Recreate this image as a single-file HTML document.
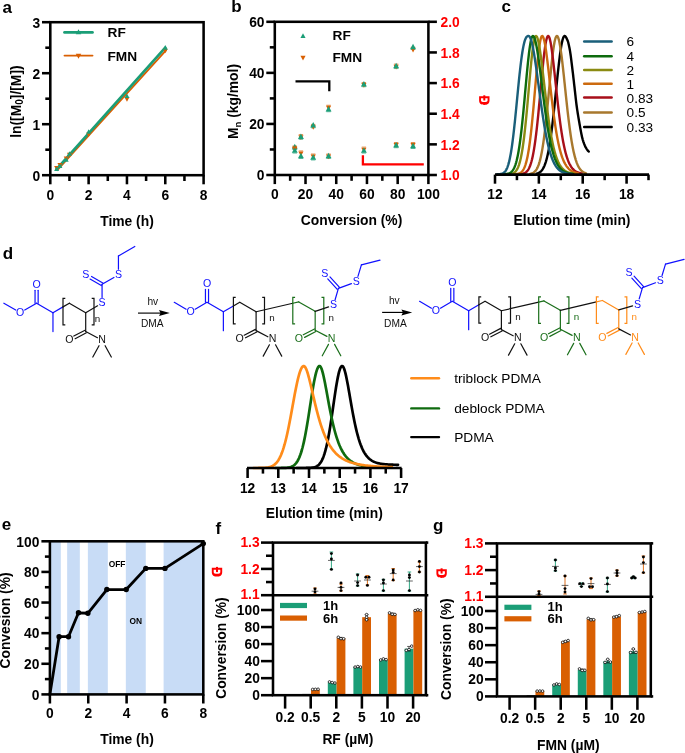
<!DOCTYPE html>
<html><head><meta charset="utf-8"><title>Figure</title>
<style>html,body{margin:0;padding:0;background:#fff;}body{width:685px;height:753px;overflow:hidden;font-family:"Liberation Sans",sans-serif;}</style>
</head><body>
<svg width="685" height="753" viewBox="0 0 685 753" style="display:block;will-change:transform;transform:translateZ(0)">
<rect width="685" height="753" fill="#fff"/>
<text x="2.50" y="12.60" font-family="Liberation Sans, sans-serif" font-weight="bold" font-size="17" text-anchor="start" fill="#000">a</text>
<line x1="57.32" y1="170.19" x2="165.97" y2="50.34" stroke="#D95F02" stroke-width="1.8" stroke-linecap="round"/>
<line x1="56.62" y1="169.08" x2="165.28" y2="47.70" stroke="#1B9E77" stroke-width="2.7" stroke-linecap="round"/>
<polygon points="56.62,170.66 54.15,166.11 59.09,166.11" fill="#D95F02"/>
<polygon points="59.88,167.60 57.41,163.05 62.35,163.05" fill="#D95F02"/>
<polygon points="66.20,160.97 63.73,156.42 68.67,156.42" fill="#D95F02"/>
<polygon points="69.46,157.40 66.99,152.85 71.93,152.85" fill="#D95F02"/>
<polygon points="88.62,137.00 86.16,132.45 91.09,132.45" fill="#D95F02"/>
<polygon points="126.95,101.81 124.48,97.26 129.42,97.26" fill="#D95F02"/>
<polygon points="165.28,53.36 162.81,48.81 167.75,48.81" fill="#D95F02"/>
<polygon points="56.62,166.48 54.15,171.03 59.09,171.03" fill="#1B9E77"/>
<polygon points="59.88,163.42 57.41,167.97 62.35,167.97" fill="#1B9E77"/>
<polygon points="66.20,157.30 63.73,161.85 68.67,161.85" fill="#1B9E77"/>
<polygon points="69.46,151.18 66.99,155.73 71.93,155.73" fill="#1B9E77"/>
<polygon points="88.62,129.25 86.16,133.80 91.09,133.80" fill="#1B9E77"/>
<polygon points="126.95,93.55 124.48,98.10 129.42,98.10" fill="#1B9E77"/>
<polygon points="165.28,45.10 162.81,49.65 167.75,49.65" fill="#1B9E77"/>
<rect x="50.30" y="22.20" width="153.30" height="153.00" fill="none" stroke="#000" stroke-width="2.55"/>
<line x1="42.00" y1="175.20" x2="50.30" y2="175.20" stroke="#000" stroke-width="2.55" stroke-linecap="butt"/>
<text x="40.30" y="180.50" font-family="Liberation Sans, sans-serif" font-weight="bold" font-size="13.8" text-anchor="end" fill="#000">0</text>
<line x1="42.00" y1="124.20" x2="50.30" y2="124.20" stroke="#000" stroke-width="2.55" stroke-linecap="butt"/>
<text x="40.30" y="129.50" font-family="Liberation Sans, sans-serif" font-weight="bold" font-size="13.8" text-anchor="end" fill="#000">1</text>
<line x1="42.00" y1="73.20" x2="50.30" y2="73.20" stroke="#000" stroke-width="2.55" stroke-linecap="butt"/>
<text x="40.30" y="78.50" font-family="Liberation Sans, sans-serif" font-weight="bold" font-size="13.8" text-anchor="end" fill="#000">2</text>
<line x1="42.00" y1="22.20" x2="50.30" y2="22.20" stroke="#000" stroke-width="2.55" stroke-linecap="butt"/>
<text x="40.30" y="27.50" font-family="Liberation Sans, sans-serif" font-weight="bold" font-size="13.8" text-anchor="end" fill="#000">3</text>
<line x1="45.30" y1="149.70" x2="50.30" y2="149.70" stroke="#000" stroke-width="2.55" stroke-linecap="butt"/>
<line x1="45.30" y1="98.70" x2="50.30" y2="98.70" stroke="#000" stroke-width="2.55" stroke-linecap="butt"/>
<line x1="45.30" y1="47.70" x2="50.30" y2="47.70" stroke="#000" stroke-width="2.55" stroke-linecap="butt"/>
<line x1="50.30" y1="175.20" x2="50.30" y2="184.30" stroke="#000" stroke-width="2.55" stroke-linecap="butt"/>
<text x="50.30" y="199.50" font-family="Liberation Sans, sans-serif" font-weight="bold" font-size="13.8" text-anchor="middle" fill="#000">0</text>
<line x1="88.62" y1="175.20" x2="88.62" y2="184.30" stroke="#000" stroke-width="2.55" stroke-linecap="butt"/>
<text x="88.62" y="199.50" font-family="Liberation Sans, sans-serif" font-weight="bold" font-size="13.8" text-anchor="middle" fill="#000">2</text>
<line x1="126.95" y1="175.20" x2="126.95" y2="184.30" stroke="#000" stroke-width="2.55" stroke-linecap="butt"/>
<text x="126.95" y="199.50" font-family="Liberation Sans, sans-serif" font-weight="bold" font-size="13.8" text-anchor="middle" fill="#000">4</text>
<line x1="165.28" y1="175.20" x2="165.28" y2="184.30" stroke="#000" stroke-width="2.55" stroke-linecap="butt"/>
<text x="165.28" y="199.50" font-family="Liberation Sans, sans-serif" font-weight="bold" font-size="13.8" text-anchor="middle" fill="#000">6</text>
<line x1="203.60" y1="175.20" x2="203.60" y2="184.30" stroke="#000" stroke-width="2.55" stroke-linecap="butt"/>
<text x="203.60" y="199.50" font-family="Liberation Sans, sans-serif" font-weight="bold" font-size="13.8" text-anchor="middle" fill="#000">8</text>
<line x1="69.46" y1="175.20" x2="69.46" y2="181.00" stroke="#000" stroke-width="2.55" stroke-linecap="butt"/>
<line x1="107.79" y1="175.20" x2="107.79" y2="181.00" stroke="#000" stroke-width="2.55" stroke-linecap="butt"/>
<line x1="146.11" y1="175.20" x2="146.11" y2="181.00" stroke="#000" stroke-width="2.55" stroke-linecap="butt"/>
<line x1="184.44" y1="175.20" x2="184.44" y2="181.00" stroke="#000" stroke-width="2.55" stroke-linecap="butt"/>
<text x="127.00" y="226.30" font-family="Liberation Sans, sans-serif" font-weight="bold" font-size="13.85" text-anchor="middle" fill="#000">Time (h)</text>
<text x="20.60" y="101.60" font-family="Liberation Sans, sans-serif" font-weight="bold" font-size="13.85" text-anchor="middle" fill="#000" transform="rotate(-90 20.60 101.60)">ln([M<tspan font-size="10" dy="2.8">0</tspan><tspan dy="-2.8">]/[M])</tspan></text>
<line x1="64.50" y1="32.40" x2="92.50" y2="32.40" stroke="#1B9E77" stroke-width="2.7" stroke-linecap="round"/>
<polygon points="78.50,29.20 75.75,34.27 81.25,34.27" fill="#1B9E77"/>
<line x1="64.50" y1="55.60" x2="92.50" y2="55.60" stroke="#D95F02" stroke-width="1.9" stroke-linecap="round"/>
<polygon points="78.50,58.80 75.75,53.73 81.25,53.73" fill="#D95F02"/>
<text x="107.50" y="36.90" font-family="Liberation Sans, sans-serif" font-weight="bold" font-size="13.7" text-anchor="start" fill="#000">RF</text>
<text x="107.50" y="60.80" font-family="Liberation Sans, sans-serif" font-weight="bold" font-size="13.7" text-anchor="start" fill="#000">FMN</text>
<text x="231.30" y="12.40" font-family="Liberation Sans, sans-serif" font-weight="bold" font-size="17" text-anchor="start" fill="#000">b</text>
<line x1="292.57" y1="146.10" x2="296.97" y2="146.10" stroke="#D95F02" stroke-width="0.7" stroke-linecap="butt"/>
<line x1="292.57" y1="149.51" x2="296.97" y2="149.51" stroke="#1B9E77" stroke-width="0.7" stroke-linecap="butt"/>
<polygon points="294.77,151.40 292.20,146.68 297.33,146.68" fill="#D95F02"/>
<polygon points="294.77,143.81 291.82,149.24 297.71,149.24" fill="#1B9E77"/>
<line x1="292.57" y1="146.36" x2="296.97" y2="146.36" stroke="#D95F02" stroke-width="0.7" stroke-linecap="butt"/>
<line x1="292.57" y1="153.09" x2="296.97" y2="153.09" stroke="#1B9E77" stroke-width="0.7" stroke-linecap="butt"/>
<polygon points="294.77,151.66 292.20,146.93 297.33,146.93" fill="#D95F02"/>
<polygon points="294.77,147.39 291.82,152.81 297.71,152.81" fill="#1B9E77"/>
<line x1="298.71" y1="134.61" x2="303.11" y2="134.61" stroke="#D95F02" stroke-width="0.7" stroke-linecap="butt"/>
<line x1="298.71" y1="139.30" x2="303.11" y2="139.30" stroke="#1B9E77" stroke-width="0.7" stroke-linecap="butt"/>
<polygon points="300.91,139.91 298.35,135.19 303.48,135.19" fill="#D95F02"/>
<polygon points="300.91,133.60 297.97,139.02 303.86,139.02" fill="#1B9E77"/>
<line x1="298.71" y1="150.95" x2="303.11" y2="150.95" stroke="#D95F02" stroke-width="0.7" stroke-linecap="butt"/>
<line x1="298.71" y1="158.45" x2="303.11" y2="158.45" stroke="#1B9E77" stroke-width="0.7" stroke-linecap="butt"/>
<polygon points="300.91,156.25 298.35,151.53 303.48,151.53" fill="#D95F02"/>
<polygon points="300.91,152.75 297.97,158.17 303.86,158.17" fill="#1B9E77"/>
<line x1="311.00" y1="124.40" x2="315.40" y2="124.40" stroke="#D95F02" stroke-width="0.7" stroke-linecap="butt"/>
<line x1="311.00" y1="127.81" x2="315.40" y2="127.81" stroke="#1B9E77" stroke-width="0.7" stroke-linecap="butt"/>
<polygon points="313.20,129.70 310.63,124.97 315.76,124.97" fill="#D95F02"/>
<polygon points="313.20,122.11 310.25,127.54 316.14,127.54" fill="#1B9E77"/>
<line x1="311.00" y1="154.02" x2="315.40" y2="154.02" stroke="#D95F02" stroke-width="0.7" stroke-linecap="butt"/>
<line x1="311.00" y1="159.98" x2="315.40" y2="159.98" stroke="#1B9E77" stroke-width="0.7" stroke-linecap="butt"/>
<polygon points="313.20,159.32 310.63,154.59 315.76,154.59" fill="#D95F02"/>
<polygon points="313.20,154.28 310.25,159.71 316.14,159.71" fill="#1B9E77"/>
<line x1="326.36" y1="105.25" x2="330.76" y2="105.25" stroke="#D95F02" stroke-width="0.7" stroke-linecap="butt"/>
<line x1="326.36" y1="111.72" x2="330.76" y2="111.72" stroke="#1B9E77" stroke-width="0.7" stroke-linecap="butt"/>
<polygon points="328.56,110.55 326.00,105.82 331.12,105.82" fill="#D95F02"/>
<polygon points="328.56,106.02 325.62,111.45 331.50,111.45" fill="#1B9E77"/>
<line x1="326.36" y1="154.02" x2="330.76" y2="154.02" stroke="#D95F02" stroke-width="0.7" stroke-linecap="butt"/>
<line x1="326.36" y1="158.45" x2="330.76" y2="158.45" stroke="#1B9E77" stroke-width="0.7" stroke-linecap="butt"/>
<polygon points="328.56,159.32 326.00,154.59 331.12,154.59" fill="#D95F02"/>
<polygon points="328.56,152.75 325.62,158.17 331.50,158.17" fill="#1B9E77"/>
<line x1="361.69" y1="82.52" x2="366.09" y2="82.52" stroke="#D95F02" stroke-width="0.7" stroke-linecap="butt"/>
<line x1="361.69" y1="86.70" x2="366.09" y2="86.70" stroke="#1B9E77" stroke-width="0.7" stroke-linecap="butt"/>
<polygon points="363.89,87.82 361.32,83.10 366.45,83.10" fill="#D95F02"/>
<polygon points="363.89,81.00 360.94,86.43 366.83,86.43" fill="#1B9E77"/>
<line x1="361.69" y1="147.12" x2="366.09" y2="147.12" stroke="#D95F02" stroke-width="0.7" stroke-linecap="butt"/>
<line x1="361.69" y1="153.09" x2="366.09" y2="153.09" stroke="#1B9E77" stroke-width="0.7" stroke-linecap="butt"/>
<polygon points="363.89,152.42 361.32,147.70 366.45,147.70" fill="#D95F02"/>
<polygon points="363.89,147.39 360.94,152.81 366.83,152.81" fill="#1B9E77"/>
<line x1="393.94" y1="64.14" x2="398.34" y2="64.14" stroke="#D95F02" stroke-width="0.7" stroke-linecap="butt"/>
<line x1="393.94" y1="68.57" x2="398.34" y2="68.57" stroke="#1B9E77" stroke-width="0.7" stroke-linecap="butt"/>
<polygon points="396.14,69.44 393.58,64.71 398.71,64.71" fill="#D95F02"/>
<polygon points="396.14,62.87 393.20,68.30 399.09,68.30" fill="#1B9E77"/>
<line x1="393.94" y1="142.53" x2="398.34" y2="142.53" stroke="#D95F02" stroke-width="0.7" stroke-linecap="butt"/>
<line x1="393.94" y1="147.73" x2="398.34" y2="147.73" stroke="#1B9E77" stroke-width="0.7" stroke-linecap="butt"/>
<polygon points="396.14,147.83 393.58,143.10 398.71,143.10" fill="#D95F02"/>
<polygon points="396.14,142.03 393.20,147.45 399.09,147.45" fill="#1B9E77"/>
<line x1="410.84" y1="47.29" x2="415.24" y2="47.29" stroke="#D95F02" stroke-width="0.7" stroke-linecap="butt"/>
<line x1="410.84" y1="49.42" x2="415.24" y2="49.42" stroke="#1B9E77" stroke-width="0.7" stroke-linecap="butt"/>
<polygon points="413.04,52.59 410.47,47.86 415.60,47.86" fill="#D95F02"/>
<polygon points="413.04,43.72 410.09,49.15 415.98,49.15" fill="#1B9E77"/>
<line x1="410.84" y1="142.53" x2="415.24" y2="142.53" stroke="#D95F02" stroke-width="0.7" stroke-linecap="butt"/>
<line x1="410.84" y1="148.49" x2="415.24" y2="148.49" stroke="#1B9E77" stroke-width="0.7" stroke-linecap="butt"/>
<polygon points="413.04,147.83 410.47,143.10 415.60,143.10" fill="#D95F02"/>
<polygon points="413.04,142.79 410.09,148.22 415.98,148.22" fill="#1B9E77"/>
<rect x="274.80" y="21.80" width="153.60" height="153.20" fill="none" stroke="#000" stroke-width="2.55"/>
<line x1="266.30" y1="175.00" x2="274.80" y2="175.00" stroke="#000" stroke-width="2.55" stroke-linecap="butt"/>
<text x="264.50" y="180.40" font-family="Liberation Sans, sans-serif" font-weight="bold" font-size="13.8" text-anchor="end" fill="#000">0</text>
<line x1="266.30" y1="123.93" x2="274.80" y2="123.93" stroke="#000" stroke-width="2.55" stroke-linecap="butt"/>
<text x="264.50" y="129.33" font-family="Liberation Sans, sans-serif" font-weight="bold" font-size="13.8" text-anchor="end" fill="#000">20</text>
<line x1="266.30" y1="72.87" x2="274.80" y2="72.87" stroke="#000" stroke-width="2.55" stroke-linecap="butt"/>
<text x="264.50" y="78.27" font-family="Liberation Sans, sans-serif" font-weight="bold" font-size="13.8" text-anchor="end" fill="#000">40</text>
<line x1="266.30" y1="21.80" x2="274.80" y2="21.80" stroke="#000" stroke-width="2.55" stroke-linecap="butt"/>
<text x="264.50" y="27.20" font-family="Liberation Sans, sans-serif" font-weight="bold" font-size="13.8" text-anchor="end" fill="#000">60</text>
<line x1="269.80" y1="149.47" x2="274.80" y2="149.47" stroke="#000" stroke-width="2.55" stroke-linecap="butt"/>
<line x1="269.80" y1="98.40" x2="274.80" y2="98.40" stroke="#000" stroke-width="2.55" stroke-linecap="butt"/>
<line x1="269.80" y1="47.33" x2="274.80" y2="47.33" stroke="#000" stroke-width="2.55" stroke-linecap="butt"/>
<line x1="274.80" y1="175.00" x2="274.80" y2="184.10" stroke="#000" stroke-width="2.55" stroke-linecap="butt"/>
<text x="274.80" y="199.30" font-family="Liberation Sans, sans-serif" font-weight="bold" font-size="13.8" text-anchor="middle" fill="#000">0</text>
<line x1="305.52" y1="175.00" x2="305.52" y2="184.10" stroke="#000" stroke-width="2.55" stroke-linecap="butt"/>
<text x="305.52" y="199.30" font-family="Liberation Sans, sans-serif" font-weight="bold" font-size="13.8" text-anchor="middle" fill="#000">20</text>
<line x1="336.24" y1="175.00" x2="336.24" y2="184.10" stroke="#000" stroke-width="2.55" stroke-linecap="butt"/>
<text x="336.24" y="199.30" font-family="Liberation Sans, sans-serif" font-weight="bold" font-size="13.8" text-anchor="middle" fill="#000">40</text>
<line x1="366.96" y1="175.00" x2="366.96" y2="184.10" stroke="#000" stroke-width="2.55" stroke-linecap="butt"/>
<text x="366.96" y="199.30" font-family="Liberation Sans, sans-serif" font-weight="bold" font-size="13.8" text-anchor="middle" fill="#000">60</text>
<line x1="397.68" y1="175.00" x2="397.68" y2="184.10" stroke="#000" stroke-width="2.55" stroke-linecap="butt"/>
<text x="397.68" y="199.30" font-family="Liberation Sans, sans-serif" font-weight="bold" font-size="13.8" text-anchor="middle" fill="#000">80</text>
<line x1="428.40" y1="175.00" x2="428.40" y2="184.10" stroke="#000" stroke-width="2.55" stroke-linecap="butt"/>
<text x="428.40" y="199.30" font-family="Liberation Sans, sans-serif" font-weight="bold" font-size="13.8" text-anchor="middle" fill="#000">100</text>
<line x1="290.16" y1="175.00" x2="290.16" y2="180.80" stroke="#000" stroke-width="2.55" stroke-linecap="butt"/>
<line x1="320.88" y1="175.00" x2="320.88" y2="180.80" stroke="#000" stroke-width="2.55" stroke-linecap="butt"/>
<line x1="351.60" y1="175.00" x2="351.60" y2="180.80" stroke="#000" stroke-width="2.55" stroke-linecap="butt"/>
<line x1="382.32" y1="175.00" x2="382.32" y2="180.80" stroke="#000" stroke-width="2.55" stroke-linecap="butt"/>
<line x1="413.04" y1="175.00" x2="413.04" y2="180.80" stroke="#000" stroke-width="2.55" stroke-linecap="butt"/>
<line x1="428.40" y1="175.00" x2="436.90" y2="175.00" stroke="#000" stroke-width="2.55" stroke-linecap="butt"/>
<text x="440.60" y="180.20" font-family="Liberation Sans, sans-serif" font-weight="bold" font-size="13.8" text-anchor="start" fill="#FF0000">1.0</text>
<line x1="428.40" y1="144.36" x2="436.90" y2="144.36" stroke="#000" stroke-width="2.55" stroke-linecap="butt"/>
<text x="440.60" y="149.56" font-family="Liberation Sans, sans-serif" font-weight="bold" font-size="13.8" text-anchor="start" fill="#FF0000">1.2</text>
<line x1="428.40" y1="113.72" x2="436.90" y2="113.72" stroke="#000" stroke-width="2.55" stroke-linecap="butt"/>
<text x="440.60" y="118.92" font-family="Liberation Sans, sans-serif" font-weight="bold" font-size="13.8" text-anchor="start" fill="#FF0000">1.4</text>
<line x1="428.40" y1="83.08" x2="436.90" y2="83.08" stroke="#000" stroke-width="2.55" stroke-linecap="butt"/>
<text x="440.60" y="88.28" font-family="Liberation Sans, sans-serif" font-weight="bold" font-size="13.8" text-anchor="start" fill="#FF0000">1.6</text>
<line x1="428.40" y1="52.44" x2="436.90" y2="52.44" stroke="#000" stroke-width="2.55" stroke-linecap="butt"/>
<text x="440.60" y="57.64" font-family="Liberation Sans, sans-serif" font-weight="bold" font-size="13.8" text-anchor="start" fill="#FF0000">1.8</text>
<line x1="428.40" y1="21.80" x2="436.90" y2="21.80" stroke="#000" stroke-width="2.55" stroke-linecap="butt"/>
<text x="440.60" y="27.00" font-family="Liberation Sans, sans-serif" font-weight="bold" font-size="13.8" text-anchor="start" fill="#FF0000">2.0</text>
<text x="351.50" y="225.40" font-family="Liberation Sans, sans-serif" font-weight="bold" font-size="13.85" text-anchor="middle" fill="#000">Conversion (%)</text>
<text x="238.30" y="101.50" font-family="Liberation Sans, sans-serif" font-weight="bold" font-size="13.85" text-anchor="middle" fill="#000" transform="rotate(-90 238.30 101.50)">M<tspan font-size="9.5" dy="2.5">n</tspan><tspan dy="-2.5"> (kg/mol)</tspan></text>
<polygon points="303.00,33.30 300.44,38.02 305.56,38.02" fill="#1B9E77"/>
<polygon points="303.00,60.50 300.44,55.77 305.56,55.77" fill="#D95F02"/>
<text x="332.50" y="40.40" font-family="Liberation Sans, sans-serif" font-weight="bold" font-size="13.7" text-anchor="start" fill="#000">RF</text>
<text x="332.50" y="62.30" font-family="Liberation Sans, sans-serif" font-weight="bold" font-size="13.7" text-anchor="start" fill="#000">FMN</text>
<path d="M295.5,81.3 H329.3 V91.2" fill="none" stroke="#000" stroke-width="2.3" stroke-linecap="butt" stroke-linejoin="miter"/>
<path d="M362.9,155.2 V164.3 H423.8" fill="none" stroke="#FF0000" stroke-width="2.3" stroke-linecap="butt" stroke-linejoin="miter"/>
<g transform="translate(484.30 100.60)" fill="#FF0000"><path fill-rule="evenodd" d="M-5.2,-4.4 H5.2 V0 C5.2,3.2 3,4.4 0,4.4 C-3,4.4 -5.2,3.2 -5.2,0 Z M-3.3,-2.4 H3.3 V-0.3 C3.3,1.2 1.8,1.5 0,1.5 C-1.8,1.5 -3.3,1.2 -3.3,-0.3 Z"/><rect x="-1" y="-5.3" width="2" height="5.2"/></g>
<text x="501.60" y="11.70" font-family="Liberation Sans, sans-serif" font-weight="bold" font-size="17" text-anchor="start" fill="#000">c</text>
<path d="M536.67,173.63 L536.90,173.57 L537.14,173.50 L537.38,173.43 L537.61,173.35 L537.85,173.26 L538.09,173.17 L538.33,173.07 L538.56,172.96 L538.80,172.84 L539.04,172.72 L539.27,172.58 L539.51,172.43 L539.75,172.28 L539.98,172.11 L540.22,171.92 L540.46,171.73 L540.70,171.52 L540.93,171.30 L541.17,171.06 L541.41,170.81 L541.64,170.54 L541.88,170.25 L542.12,169.94 L542.35,169.61 L542.59,169.26 L542.83,168.89 L543.06,168.50 L543.30,168.08 L543.54,167.64 L543.78,167.18 L544.01,166.68 L544.25,166.16 L544.49,165.61 L544.72,165.03 L544.96,164.41 L545.20,163.77 L545.43,163.09 L545.67,162.37 L545.91,161.62 L546.14,160.84 L546.38,160.01 L546.62,159.15 L546.86,158.25 L547.09,157.31 L547.33,156.32 L547.57,155.29 L547.80,154.22 L548.04,153.11 L548.28,151.95 L548.51,150.74 L548.75,149.49 L548.99,148.19 L549.23,146.85 L549.46,145.46 L549.70,144.02 L549.94,142.53 L550.17,141.00 L550.41,139.42 L550.65,137.79 L550.88,136.12 L551.12,134.40 L551.36,132.63 L551.59,130.82 L551.83,128.97 L552.07,127.07 L552.31,125.13 L552.54,123.15 L552.78,121.14 L553.02,119.08 L553.25,116.99 L553.49,114.87 L553.73,112.71 L553.96,110.53 L554.20,108.32 L554.44,106.08 L554.67,103.82 L554.91,101.55 L555.15,99.26 L555.39,96.95 L555.62,94.64 L555.86,92.32 L556.10,89.99 L556.33,87.67 L556.57,85.35 L556.81,83.04 L557.04,80.74 L557.28,78.46 L557.52,76.19 L557.75,73.96 L557.99,71.74 L558.23,69.56 L558.47,67.42 L558.70,65.31 L558.94,63.25 L559.18,61.24 L559.41,59.28 L559.65,57.37 L559.89,55.52 L560.12,53.74 L560.36,52.02 L560.60,50.38 L560.84,48.81 L561.07,47.31 L561.31,45.90 L561.55,44.57 L561.78,43.33 L562.02,42.18 L562.26,41.12 L562.49,40.15 L562.73,39.28 L562.97,38.51 L563.20,37.84 L563.44,37.28 L563.68,36.81 L563.92,36.45 L564.15,36.19 L564.39,36.04 L564.63,36.00 L564.86,36.05 L565.10,36.18 L565.34,36.37 L565.57,36.64 L565.81,36.95 L566.05,37.32 L566.28,37.73 L566.52,38.18 L566.76,38.65 L567.00,39.15 L567.23,39.66 L567.47,40.18 L567.71,40.77 L567.94,41.47 L568.18,42.28 L568.42,43.19 L568.65,44.19 L568.89,45.25 L569.13,46.38 L569.37,47.56 L569.60,48.78 L569.84,50.02 L570.08,51.37 L570.31,52.86 L570.55,54.48 L570.79,56.19 L571.02,57.99 L571.26,59.86 L571.50,61.78 L571.73,63.73 L571.97,65.69 L572.21,67.64 L572.45,69.58 L572.68,71.50 L572.92,73.47 L573.16,75.49 L573.39,77.54 L573.63,79.61 L573.87,81.70 L574.10,83.80 L574.34,85.89 L574.58,87.97 L574.81,90.04 L575.05,92.13 L575.29,94.27 L575.53,96.42 L575.76,98.55 L576.00,100.63 L576.24,102.63 L576.47,104.51 L576.71,106.27 L576.95,107.96 L577.18,109.60 L577.42,111.18 L577.66,112.72 L577.90,114.21 L578.13,115.67 L578.37,117.09 L578.61,118.48 L578.84,119.85 L579.08,121.21 L579.32,122.57 L579.55,123.94 L579.79,125.30 L580.03,126.65 L580.26,127.99 L580.50,129.30 L580.74,130.59 L580.98,131.85 L581.21,133.06 L581.45,134.24 L581.69,135.37 L581.92,136.44 L582.16,137.45 L582.40,138.40 L582.63,139.27 L582.87,140.07 L583.11,140.83 L583.34,141.56 L583.58,142.26 L583.82,142.93 L584.06,143.58 L584.29,144.20 L584.53,144.79 L584.77,145.35 L585.00,145.89 L585.24,146.40 L585.48,146.88 L585.71,147.34 L585.95,147.77 L586.19,148.18 L586.43,148.57 L586.66,148.96 L586.90,149.33 L587.14,149.68 L587.37,150.02 L587.61,150.33 L587.85,150.63 L588.08,150.90 L588.32,151.14 L588.56,151.35 L588.79,151.53" fill="none" stroke="#000000" stroke-width="2.4" stroke-linecap="round" stroke-linejoin="round"/>
<path d="M530.09,173.87 L530.34,173.82 L530.60,173.76 L530.85,173.70 L531.10,173.64 L531.36,173.56 L531.61,173.48 L531.87,173.40 L532.12,173.30 L532.38,173.19 L532.63,173.08 L532.88,172.95 L533.14,172.81 L533.39,172.66 L533.65,172.50 L533.90,172.32 L534.16,172.13 L534.41,171.92 L534.66,171.69 L534.92,171.44 L535.17,171.18 L535.43,170.89 L535.68,170.58 L535.93,170.24 L536.19,169.88 L536.44,169.50 L536.70,169.08 L536.95,168.64 L537.21,168.16 L537.46,167.65 L537.71,167.10 L537.97,166.52 L538.22,165.90 L538.48,165.24 L538.73,164.54 L538.98,163.79 L539.24,163.00 L539.49,162.16 L539.75,161.28 L540.00,160.34 L540.26,159.35 L540.51,158.31 L540.76,157.21 L541.02,156.06 L541.27,154.84 L541.53,153.57 L541.78,152.24 L542.03,150.85 L542.29,149.40 L542.54,147.88 L542.80,146.30 L543.05,144.66 L543.31,142.95 L543.56,141.18 L543.81,139.35 L544.07,137.45 L544.32,135.49 L544.58,133.47 L544.83,131.38 L545.09,129.24 L545.34,127.04 L545.59,124.78 L545.85,122.47 L546.10,120.10 L546.36,117.69 L546.61,115.23 L546.86,112.73 L547.12,110.19 L547.37,107.61 L547.63,105.01 L547.88,102.37 L548.14,99.71 L548.39,97.03 L548.64,94.34 L548.90,91.65 L549.15,88.94 L549.41,86.25 L549.66,83.56 L549.91,80.88 L550.17,78.23 L550.42,75.61 L550.68,73.01 L550.93,70.46 L551.19,67.95 L551.44,65.50 L551.69,63.10 L551.95,60.77 L552.20,58.51 L552.46,56.33 L552.71,54.23 L552.96,52.22 L553.22,50.30 L553.47,48.49 L553.73,46.78 L553.98,45.18 L554.24,43.70 L554.49,42.34 L554.74,41.10 L555.00,39.99 L555.25,39.01 L555.51,38.16 L555.76,37.45 L556.02,36.88 L556.27,36.45 L556.52,36.16 L556.78,36.02 L557.03,36.02 L557.29,36.15 L557.54,36.42 L557.79,36.82 L558.05,37.34 L558.30,38.00 L558.56,38.78 L558.81,39.68 L559.07,40.70 L559.32,41.84 L559.57,43.08 L559.83,44.43 L560.08,45.89 L560.34,47.44 L560.59,49.08 L560.84,50.81 L561.10,52.62 L561.35,54.51 L561.61,56.47 L561.86,58.50 L562.12,60.59 L562.37,62.73 L562.62,64.93 L562.88,67.17 L563.13,69.46 L563.39,71.77 L563.64,74.12 L563.90,76.49 L564.15,78.89 L564.40,81.29 L564.66,83.71 L564.91,86.14 L565.17,88.56 L565.42,90.98 L565.67,93.40 L565.93,95.81 L566.18,98.20 L566.44,100.57 L566.69,102.92 L566.95,105.25 L567.20,107.55 L567.45,109.82 L567.71,112.06 L567.96,114.26 L568.22,116.43 L568.47,118.56 L568.72,120.64 L568.98,122.69 L569.23,124.69 L569.49,126.64 L569.74,128.55 L570.00,130.41 L570.25,132.23 L570.50,133.99 L570.76,135.71 L571.01,137.38 L571.27,139.00 L571.52,140.57 L571.77,142.09 L572.03,143.56 L572.28,144.98 L572.54,146.35 L572.79,147.68 L573.05,148.96 L573.30,150.19 L573.55,151.38 L573.81,152.52 L574.06,153.61 L574.32,154.66 L574.57,155.67 L574.83,156.64 L575.08,157.57 L575.33,158.46 L575.59,159.31 L575.84,160.12 L576.10,160.89 L576.35,161.63 L576.60,162.34 L576.86,163.01 L577.11,163.65 L577.37,164.26 L577.62,164.84 L577.88,165.39 L578.13,165.91 L578.38,166.41 L578.64,166.88 L578.89,167.33 L579.15,167.75 L579.40,168.15 L579.65,168.53 L579.91,168.89 L580.16,169.23 L580.42,169.55 L580.67,169.85 L580.93,170.13 L581.18,170.40 L581.43,170.65 L581.69,170.89 L581.94,171.12 L582.20,171.33 L582.45,171.52 L582.71,171.71 L582.96,171.88 L583.21,172.05 L583.47,172.20 L583.72,172.35 L583.98,172.48 L584.23,172.61 L584.48,172.73 L584.74,172.84 L584.99,172.94 L585.25,173.04 L585.50,173.13 L585.76,173.21 L586.01,173.29" fill="none" stroke="#A8782D" stroke-width="2.4" stroke-linecap="round" stroke-linejoin="round"/>
<path d="M521.32,174.00 L521.59,173.96 L521.86,173.92 L522.14,173.87 L522.41,173.81 L522.69,173.75 L522.96,173.68 L523.23,173.60 L523.51,173.52 L523.78,173.42 L524.06,173.32 L524.33,173.20 L524.61,173.07 L524.88,172.93 L525.15,172.78 L525.43,172.61 L525.70,172.42 L525.98,172.21 L526.25,171.98 L526.52,171.74 L526.80,171.47 L527.07,171.17 L527.35,170.85 L527.62,170.50 L527.89,170.12 L528.17,169.71 L528.44,169.27 L528.72,168.79 L528.99,168.27 L529.27,167.71 L529.54,167.10 L529.81,166.46 L530.09,165.76 L530.36,165.02 L530.64,164.22 L530.91,163.37 L531.18,162.46 L531.46,161.49 L531.73,160.46 L532.01,159.37 L532.28,158.21 L532.56,156.99 L532.83,155.69 L533.10,154.32 L533.38,152.88 L533.65,151.37 L533.93,149.78 L534.20,148.11 L534.47,146.36 L534.75,144.54 L535.02,142.64 L535.30,140.66 L535.57,138.60 L535.84,136.46 L536.12,134.25 L536.39,131.96 L536.67,129.59 L536.94,127.16 L537.22,124.65 L537.49,122.08 L537.76,119.45 L538.04,116.76 L538.31,114.01 L538.59,111.21 L538.86,108.36 L539.13,105.48 L539.41,102.56 L539.68,99.61 L539.96,96.64 L540.23,93.65 L540.50,90.66 L540.78,87.66 L541.05,84.67 L541.33,81.70 L541.60,78.75 L541.88,75.83 L542.15,72.96 L542.42,70.13 L542.70,67.36 L542.97,64.65 L543.25,62.02 L543.52,59.48 L543.79,57.02 L544.07,54.67 L544.34,52.43 L544.62,50.30 L544.89,48.29 L545.16,46.42 L545.44,44.68 L545.71,43.08 L545.99,41.64 L546.26,40.35 L546.54,39.22 L546.81,38.26 L547.08,37.46 L547.36,36.83 L547.63,36.38 L547.91,36.10 L548.18,36.00 L548.45,36.08 L548.73,36.34 L549.00,36.78 L549.28,37.39 L549.55,38.17 L549.83,39.12 L550.10,40.21 L550.37,41.46 L550.65,42.84 L550.92,44.36 L551.20,46.00 L551.47,47.76 L551.74,49.63 L552.02,51.60 L552.29,53.66 L552.57,55.81 L552.84,58.03 L553.11,60.32 L553.39,62.67 L553.66,65.08 L553.94,67.53 L554.21,70.01 L554.49,72.53 L554.76,75.08 L555.03,77.64 L555.31,80.21 L555.58,82.78 L555.86,85.36 L556.13,87.93 L556.40,90.49 L556.68,93.04 L556.95,95.56 L557.23,98.06 L557.50,100.54 L557.77,102.98 L558.05,105.39 L558.32,107.76 L558.60,110.08 L558.87,112.37 L559.15,114.61 L559.42,116.81 L559.69,118.96 L559.97,121.06 L560.24,123.11 L560.52,125.10 L560.79,127.05 L561.06,128.94 L561.34,130.78 L561.61,132.57 L561.89,134.30 L562.16,135.98 L562.43,137.60 L562.71,139.18 L562.98,140.70 L563.26,142.17 L563.53,143.59 L563.81,144.96 L564.08,146.28 L564.35,147.55 L564.63,148.78 L564.90,149.96 L565.18,151.09 L565.45,152.18 L565.72,153.22 L566.00,154.23 L566.27,155.19 L566.55,156.11 L566.82,157.00 L567.09,157.84 L567.37,158.65 L567.64,159.43 L567.92,160.17 L568.19,160.88 L568.47,161.55 L568.74,162.20 L569.01,162.81 L569.29,163.40 L569.56,163.96 L569.84,164.50 L570.11,165.00 L570.38,165.49 L570.66,165.95 L570.93,166.39 L571.21,166.81 L571.48,167.21 L571.75,167.58 L572.03,167.94 L572.30,168.28 L572.58,168.61 L572.85,168.91 L573.13,169.21 L573.40,169.48 L573.67,169.75 L573.95,170.00 L574.22,170.23 L574.50,170.46 L574.77,170.67 L575.04,170.87 L575.32,171.06 L575.59,171.24 L575.87,171.41 L576.14,171.57 L576.42,171.72 L576.69,171.87 L576.96,172.01 L577.24,172.14 L577.51,172.26 L577.79,172.37 L578.06,172.48 L578.33,172.59 L578.61,172.68 L578.88,172.78 L579.16,172.86 L579.43,172.95 L579.70,173.02 L579.98,173.10 L580.25,173.17 L580.53,173.23 L580.80,173.29 L581.08,173.35 L581.35,173.41 L581.62,173.46" fill="none" stroke="#A80F1A" stroke-width="2.4" stroke-linecap="round" stroke-linejoin="round"/>
<path d="M514.74,174.20 L515.03,174.18 L515.32,174.16 L515.60,174.14 L515.89,174.11 L516.18,174.08 L516.47,174.05 L516.76,174.01 L517.05,173.97 L517.34,173.92 L517.63,173.86 L517.92,173.80 L518.21,173.73 L518.50,173.65 L518.78,173.56 L519.07,173.46 L519.36,173.35 L519.65,173.22 L519.94,173.08 L520.23,172.92 L520.52,172.74 L520.81,172.54 L521.10,172.33 L521.39,172.08 L521.67,171.82 L521.96,171.52 L522.25,171.19 L522.54,170.84 L522.83,170.44 L523.12,170.01 L523.41,169.54 L523.70,169.02 L523.99,168.46 L524.28,167.85 L524.57,167.18 L524.85,166.46 L525.14,165.68 L525.43,164.84 L525.72,163.93 L526.01,162.95 L526.30,161.90 L526.59,160.77 L526.88,159.57 L527.17,158.28 L527.46,156.91 L527.75,155.45 L528.03,153.90 L528.32,152.26 L528.61,150.52 L528.90,148.69 L529.19,146.77 L529.48,144.74 L529.77,142.62 L530.06,140.40 L530.35,138.08 L530.64,135.66 L530.93,133.15 L531.21,130.54 L531.50,127.85 L531.79,125.06 L532.08,122.19 L532.37,119.25 L532.66,116.23 L532.95,113.14 L533.24,109.99 L533.53,106.78 L533.82,103.53 L534.11,100.24 L534.39,96.92 L534.68,93.58 L534.97,90.23 L535.26,86.88 L535.55,83.55 L535.84,80.23 L536.13,76.95 L536.42,73.72 L536.71,70.54 L537.00,67.44 L537.29,64.42 L537.57,61.49 L537.86,58.67 L538.15,55.97 L538.44,53.39 L538.73,50.96 L539.02,48.68 L539.31,46.56 L539.60,44.62 L539.89,42.85 L540.18,41.27 L540.46,39.89 L540.75,38.71 L541.04,37.74 L541.33,36.98 L541.62,36.43 L541.91,36.11 L542.20,36.00 L542.49,36.10 L542.78,36.39 L543.07,36.87 L543.36,37.53 L543.64,38.36 L543.93,39.35 L544.22,40.50 L544.51,41.80 L544.80,43.24 L545.09,44.82 L545.38,46.52 L545.67,48.33 L545.96,50.25 L546.25,52.27 L546.54,54.38 L546.82,56.56 L547.11,58.82 L547.40,61.15 L547.69,63.53 L547.98,65.95 L548.27,68.42 L548.56,70.92 L548.85,73.45 L549.14,75.99 L549.43,78.55 L549.72,81.11 L550.00,83.67 L550.29,86.23 L550.58,88.78 L550.87,91.31 L551.16,93.82 L551.45,96.31 L551.74,98.78 L552.03,101.21 L552.32,103.61 L552.61,105.97 L552.90,108.29 L553.18,110.57 L553.47,112.80 L553.76,114.99 L554.05,117.14 L554.34,119.23 L554.63,121.28 L554.92,123.27 L555.21,125.21 L555.50,127.10 L555.79,128.94 L556.08,130.73 L556.36,132.47 L556.65,134.15 L556.94,135.78 L557.23,137.36 L557.52,138.89 L557.81,140.37 L558.10,141.80 L558.39,143.18 L558.68,144.52 L558.97,145.80 L559.25,147.04 L559.54,148.23 L559.83,149.38 L560.12,150.49 L560.41,151.55 L560.70,152.58 L560.99,153.56 L561.28,154.50 L561.57,155.41 L561.86,156.28 L562.15,157.11 L562.43,157.91 L562.72,158.67 L563.01,159.41 L563.30,160.11 L563.59,160.78 L563.88,161.42 L564.17,162.04 L564.46,162.63 L564.75,163.19 L565.04,163.72 L565.33,164.24 L565.61,164.73 L565.90,165.19 L566.19,165.64 L566.48,166.06 L566.77,166.47 L567.06,166.86 L567.35,167.22 L567.64,167.57 L567.93,167.91 L568.22,168.23 L568.51,168.53 L568.79,168.82 L569.08,169.10 L569.37,169.36 L569.66,169.61 L569.95,169.84 L570.24,170.07 L570.53,170.28 L570.82,170.49 L571.11,170.68 L571.40,170.87 L571.69,171.04 L571.97,171.21 L572.26,171.36 L572.55,171.51 L572.84,171.66 L573.13,171.79 L573.42,171.92 L573.71,172.04 L574.00,172.16 L574.29,172.27 L574.58,172.37 L574.87,172.47 L575.15,172.57 L575.44,172.66 L575.73,172.74 L576.02,172.82 L576.31,172.90 L576.60,172.97 L576.89,173.04 L577.18,173.11 L577.47,173.17 L577.76,173.23 L578.04,173.28 L578.33,173.33" fill="none" stroke="#CC6A0F" stroke-width="2.4" stroke-linecap="round" stroke-linejoin="round"/>
<path d="M508.16,174.20 L508.46,174.18 L508.76,174.16 L509.06,174.13 L509.35,174.11 L509.65,174.08 L509.95,174.04 L510.25,174.00 L510.55,173.96 L510.85,173.91 L511.15,173.85 L511.45,173.78 L511.75,173.71 L512.05,173.62 L512.34,173.53 L512.64,173.42 L512.94,173.30 L513.24,173.16 L513.54,173.01 L513.84,172.84 L514.14,172.65 L514.44,172.44 L514.74,172.21 L515.04,171.95 L515.34,171.66 L515.63,171.34 L515.93,170.99 L516.23,170.61 L516.53,170.18 L516.83,169.72 L517.13,169.21 L517.43,168.65 L517.73,168.05 L518.03,167.39 L518.33,166.67 L518.62,165.89 L518.92,165.05 L519.22,164.13 L519.52,163.15 L519.82,162.10 L520.12,160.96 L520.42,159.75 L520.72,158.45 L521.02,157.06 L521.32,155.58 L521.62,154.01 L521.91,152.35 L522.21,150.58 L522.51,148.72 L522.81,146.76 L523.11,144.69 L523.41,142.52 L523.71,140.25 L524.01,137.88 L524.31,135.41 L524.61,132.84 L524.90,130.17 L525.20,127.41 L525.50,124.56 L525.80,121.62 L526.10,118.60 L526.40,115.51 L526.70,112.35 L527.00,109.12 L527.30,105.84 L527.60,102.51 L527.89,99.15 L528.19,95.76 L528.49,92.35 L528.79,88.94 L529.09,85.53 L529.39,82.14 L529.69,78.77 L529.99,75.45 L530.29,72.18 L530.59,68.98 L530.89,65.86 L531.18,62.83 L531.48,59.90 L531.78,57.09 L532.08,54.42 L532.38,51.88 L532.68,49.50 L532.98,47.28 L533.28,45.24 L533.58,43.38 L533.88,41.71 L534.17,40.24 L534.47,38.99 L534.77,37.94 L535.07,37.12 L535.37,36.52 L535.67,36.15 L535.97,36.00 L536.27,36.07 L536.57,36.32 L536.87,36.76 L537.17,37.36 L537.46,38.14 L537.76,39.08 L538.06,40.17 L538.36,41.41 L538.66,42.80 L538.96,44.31 L539.26,45.96 L539.56,47.72 L539.86,49.59 L540.16,51.56 L540.45,53.63 L540.75,55.78 L541.05,58.00 L541.35,60.30 L541.65,62.66 L541.95,65.07 L542.25,67.52 L542.55,70.02 L542.85,72.54 L543.15,75.09 L543.45,77.66 L543.74,80.23 L544.04,82.82 L544.34,85.40 L544.64,87.98 L544.94,90.54 L545.24,93.10 L545.54,95.63 L545.84,98.13 L546.14,100.61 L546.44,103.06 L546.73,105.47 L547.03,107.84 L547.33,110.18 L547.63,112.47 L547.93,114.71 L548.23,116.91 L548.53,119.06 L548.83,121.17 L549.13,123.22 L549.43,125.22 L549.73,127.16 L550.02,129.06 L550.32,130.90 L550.62,132.68 L550.92,134.42 L551.22,136.10 L551.52,137.72 L551.82,139.30 L552.12,140.82 L552.42,142.29 L552.72,143.71 L553.01,145.08 L553.31,146.40 L553.61,147.67 L553.91,148.89 L554.21,150.07 L554.51,151.20 L554.81,152.29 L555.11,153.33 L555.41,154.33 L555.71,155.29 L556.01,156.21 L556.30,157.09 L556.60,157.94 L556.90,158.75 L557.20,159.52 L557.50,160.26 L557.80,160.96 L558.10,161.64 L558.40,162.28 L558.70,162.89 L559.00,163.48 L559.29,164.04 L559.59,164.57 L559.89,165.08 L560.19,165.56 L560.49,166.02 L560.79,166.45 L561.09,166.87 L561.39,167.26 L561.69,167.64 L561.99,168.00 L562.29,168.34 L562.58,168.66 L562.88,168.96 L563.18,169.25 L563.48,169.53 L563.78,169.79 L564.08,170.04 L564.38,170.27 L564.68,170.50 L564.98,170.71 L565.28,170.91 L565.57,171.09 L565.87,171.27 L566.17,171.44 L566.47,171.60 L566.77,171.75 L567.07,171.90 L567.37,172.03 L567.67,172.16 L567.97,172.28 L568.27,172.40 L568.57,172.51 L568.86,172.61 L569.16,172.70 L569.46,172.80 L569.76,172.88 L570.06,172.96 L570.36,173.04 L570.66,173.11 L570.96,173.18 L571.26,173.25 L571.56,173.31 L571.85,173.36 L572.15,173.42 L572.45,173.47 L572.75,173.52 L573.05,173.56 L573.35,173.61 L573.65,173.65 L573.95,173.68" fill="none" stroke="#8B8B12" stroke-width="2.4" stroke-linecap="round" stroke-linejoin="round"/>
<path d="M503.77,174.22 L504.09,174.20 L504.40,174.19 L504.71,174.17 L505.03,174.14 L505.34,174.12 L505.66,174.09 L505.97,174.05 L506.28,174.02 L506.60,173.97 L506.91,173.92 L507.23,173.86 L507.54,173.80 L507.85,173.72 L508.17,173.64 L508.48,173.54 L508.80,173.43 L509.11,173.31 L509.42,173.18 L509.74,173.02 L510.05,172.85 L510.37,172.66 L510.68,172.44 L510.99,172.20 L511.31,171.94 L511.62,171.64 L511.94,171.32 L512.25,170.96 L512.56,170.56 L512.88,170.12 L513.19,169.64 L513.51,169.12 L513.82,168.54 L514.13,167.91 L514.45,167.22 L514.76,166.47 L515.08,165.66 L515.39,164.79 L515.70,163.84 L516.02,162.81 L516.33,161.71 L516.65,160.52 L516.96,159.25 L517.27,157.89 L517.59,156.44 L517.90,154.89 L518.22,153.24 L518.53,151.50 L518.84,149.65 L519.16,147.70 L519.47,145.64 L519.79,143.47 L520.10,141.20 L520.41,138.83 L520.73,136.35 L521.04,133.76 L521.36,131.08 L521.67,128.29 L521.98,125.41 L522.30,122.44 L522.61,119.39 L522.93,116.25 L523.24,113.04 L523.55,109.76 L523.87,106.43 L524.18,103.04 L524.50,99.62 L524.81,96.17 L525.12,92.69 L525.44,89.21 L525.75,85.74 L526.07,82.28 L526.38,78.85 L526.69,75.46 L527.01,72.13 L527.32,68.86 L527.64,65.68 L527.95,62.60 L528.26,59.63 L528.58,56.78 L528.89,54.07 L529.21,51.50 L529.52,49.10 L529.83,46.87 L530.15,44.82 L530.46,42.97 L530.78,41.32 L531.09,39.88 L531.40,38.66 L531.72,37.66 L532.03,36.90 L532.35,36.36 L532.66,36.07 L532.97,36.01 L533.29,36.13 L533.60,36.42 L533.92,36.87 L534.23,37.48 L534.54,38.25 L534.86,39.16 L535.17,40.22 L535.49,41.41 L535.80,42.73 L536.11,44.18 L536.43,45.75 L536.74,47.43 L537.06,49.22 L537.37,51.10 L537.68,53.08 L538.00,55.14 L538.31,57.28 L538.63,59.49 L538.94,61.76 L539.25,64.09 L539.57,66.47 L539.88,68.89 L540.20,71.35 L540.51,73.83 L540.82,76.34 L541.14,78.87 L541.45,81.41 L541.77,83.96 L542.08,86.51 L542.39,89.05 L542.71,91.58 L543.02,94.10 L543.34,96.61 L543.65,99.09 L543.96,101.54 L544.28,103.97 L544.59,106.36 L544.91,108.72 L545.22,111.04 L545.53,113.32 L545.85,115.56 L546.16,117.75 L546.48,119.90 L546.79,121.99 L547.10,124.04 L547.42,126.04 L547.73,127.99 L548.05,129.89 L548.36,131.73 L548.67,133.52 L548.99,135.26 L549.30,136.95 L549.62,138.58 L549.93,140.16 L550.24,141.69 L550.56,143.17 L550.87,144.59 L551.19,145.97 L551.50,147.29 L551.81,148.57 L552.13,149.80 L552.44,150.98 L552.76,152.11 L553.07,153.20 L553.38,154.25 L553.70,155.25 L554.01,156.21 L554.33,157.13 L554.64,158.01 L554.95,158.85 L555.27,159.66 L555.58,160.42 L555.90,161.16 L556.21,161.86 L556.52,162.52 L556.84,163.16 L557.15,163.77 L557.47,164.34 L557.78,164.89 L558.09,165.41 L558.41,165.91 L558.72,166.38 L559.04,166.82 L559.35,167.25 L559.66,167.65 L559.98,168.03 L560.29,168.39 L560.61,168.74 L560.92,169.06 L561.23,169.37 L561.55,169.66 L561.86,169.93 L562.18,170.19 L562.49,170.44 L562.80,170.67 L563.12,170.89 L563.43,171.09 L563.75,171.29 L564.06,171.47 L564.37,171.65 L564.69,171.81 L565.00,171.96 L565.32,172.11 L565.63,172.24 L565.94,172.37 L566.26,172.49 L566.57,172.61 L566.89,172.71 L567.20,172.81 L567.51,172.91 L567.83,173.00 L568.14,173.08 L568.46,173.16 L568.77,173.23 L569.08,173.30 L569.40,173.37 L569.71,173.43 L570.03,173.48 L570.34,173.54 L570.65,173.59 L570.97,173.63 L571.28,173.68 L571.60,173.72 L571.91,173.76 L572.22,173.79 L572.54,173.83 L572.85,173.86" fill="none" stroke="#0D6B0D" stroke-width="2.4" stroke-linecap="round" stroke-linejoin="round"/>
<path d="M497.19,174.26 L497.53,174.26 L497.87,174.24 L498.21,174.23 L498.55,174.21 L498.89,174.19 L499.23,174.17 L499.57,174.14 L499.90,174.10 L500.24,174.06 L500.58,174.00 L500.92,173.94 L501.26,173.87 L501.60,173.78 L501.94,173.68 L502.28,173.56 L502.62,173.41 L502.95,173.25 L503.29,173.06 L503.63,172.84 L503.97,172.59 L504.31,172.31 L504.65,171.98 L504.99,171.61 L505.33,171.19 L505.67,170.71 L506.00,170.18 L506.34,169.58 L506.68,168.91 L507.02,168.17 L507.36,167.36 L507.70,166.45 L508.04,165.46 L508.38,164.37 L508.72,163.18 L509.06,161.88 L509.39,160.48 L509.73,158.96 L510.07,157.33 L510.41,155.58 L510.75,153.71 L511.09,151.71 L511.43,149.59 L511.77,147.35 L512.11,144.98 L512.44,142.50 L512.78,139.89 L513.12,137.17 L513.46,134.34 L513.80,131.40 L514.14,128.37 L514.48,125.24 L514.82,122.03 L515.16,118.75 L515.49,115.41 L515.83,112.00 L516.17,108.56 L516.51,105.09 L516.85,101.59 L517.19,98.09 L517.53,94.59 L517.87,91.11 L518.21,87.66 L518.54,84.26 L518.88,80.91 L519.22,77.62 L519.56,74.42 L519.90,71.30 L520.24,68.29 L520.58,65.38 L520.92,62.59 L521.26,59.92 L521.60,57.39 L521.93,55.00 L522.27,52.74 L522.61,50.64 L522.95,48.69 L523.29,46.88 L523.63,45.23 L523.97,43.73 L524.31,42.38 L524.65,41.18 L524.98,40.13 L525.32,39.21 L525.66,38.43 L526.00,37.77 L526.34,37.24 L526.68,36.82 L527.02,36.50 L527.36,36.27 L527.70,36.12 L528.03,36.04 L528.37,36.00 L528.71,36.01 L529.05,36.13 L529.39,36.40 L529.73,36.83 L530.07,37.40 L530.41,38.12 L530.75,38.98 L531.08,39.98 L531.42,41.10 L531.76,42.36 L532.10,43.74 L532.44,45.24 L532.78,46.84 L533.12,48.56 L533.46,50.37 L533.80,52.28 L534.14,54.27 L534.47,56.34 L534.81,58.49 L535.15,60.70 L535.49,62.98 L535.83,65.31 L536.17,67.69 L536.51,70.11 L536.85,72.57 L537.19,75.05 L537.52,77.56 L537.86,80.09 L538.20,82.63 L538.54,85.18 L538.88,87.73 L539.22,90.28 L539.56,92.82 L539.90,95.34 L540.24,97.85 L540.57,100.34 L540.91,102.81 L541.25,105.24 L541.59,107.65 L541.93,110.02 L542.27,112.35 L542.61,114.65 L542.95,116.90 L543.29,119.11 L543.62,121.27 L543.96,123.38 L544.30,125.44 L544.64,127.46 L544.98,129.42 L545.32,131.33 L545.66,133.18 L546.00,134.99 L546.34,136.74 L546.68,138.43 L547.01,140.07 L547.35,141.66 L547.69,143.19 L548.03,144.67 L548.37,146.10 L548.71,147.48 L549.05,148.80 L549.39,150.07 L549.73,151.30 L550.06,152.47 L550.40,153.60 L550.74,154.68 L551.08,155.72 L551.42,156.71 L551.76,157.66 L552.10,158.56 L552.44,159.43 L552.78,160.25 L553.11,161.04 L553.45,161.79 L553.79,162.50 L554.13,163.18 L554.47,163.82 L554.81,164.43 L555.15,165.01 L555.49,165.57 L555.83,166.09 L556.16,166.58 L556.50,167.05 L556.84,167.50 L557.18,167.92 L557.52,168.31 L557.86,168.69 L558.20,169.04 L558.54,169.38 L558.88,169.69 L559.22,169.99 L559.55,170.27 L559.89,170.53 L560.23,170.78 L560.57,171.01 L560.91,171.23 L561.25,171.43 L561.59,171.63 L561.93,171.81 L562.27,171.98 L562.60,172.13 L562.94,172.28 L563.28,172.42 L563.62,172.55 L563.96,172.67 L564.30,172.79 L564.64,172.90 L564.98,172.99 L565.32,173.09 L565.65,173.17 L565.99,173.26 L566.33,173.33 L566.67,173.40 L567.01,173.47 L567.35,173.53 L567.69,173.58 L568.03,173.64 L568.37,173.69 L568.70,173.73 L569.04,173.77 L569.38,173.81 L569.72,173.85 L570.06,173.88 L570.40,173.92 L570.74,173.95 L571.08,173.97 L571.42,174.00 L571.75,174.02" fill="none" stroke="#1A5F7A" stroke-width="2.4" stroke-linecap="round" stroke-linejoin="round"/>
<line x1="495.00" y1="174.60" x2="649.00" y2="174.60" stroke="#000" stroke-width="2.55" stroke-linecap="butt"/>
<line x1="495.00" y1="174.60" x2="495.00" y2="183.70" stroke="#000" stroke-width="2.55" stroke-linecap="butt"/>
<line x1="516.93" y1="174.60" x2="516.93" y2="180.20" stroke="#000" stroke-width="2.55" stroke-linecap="butt"/>
<line x1="538.86" y1="174.60" x2="538.86" y2="183.70" stroke="#000" stroke-width="2.55" stroke-linecap="butt"/>
<line x1="560.79" y1="174.60" x2="560.79" y2="180.20" stroke="#000" stroke-width="2.55" stroke-linecap="butt"/>
<line x1="582.72" y1="174.60" x2="582.72" y2="183.70" stroke="#000" stroke-width="2.55" stroke-linecap="butt"/>
<line x1="604.65" y1="174.60" x2="604.65" y2="180.20" stroke="#000" stroke-width="2.55" stroke-linecap="butt"/>
<line x1="626.58" y1="174.60" x2="626.58" y2="183.70" stroke="#000" stroke-width="2.55" stroke-linecap="butt"/>
<line x1="648.51" y1="174.60" x2="648.51" y2="180.20" stroke="#000" stroke-width="2.55" stroke-linecap="butt"/>
<text x="495.00" y="199.30" font-family="Liberation Sans, sans-serif" font-weight="bold" font-size="13.8" text-anchor="middle" fill="#000">12</text>
<text x="538.86" y="199.30" font-family="Liberation Sans, sans-serif" font-weight="bold" font-size="13.8" text-anchor="middle" fill="#000">14</text>
<text x="582.72" y="199.30" font-family="Liberation Sans, sans-serif" font-weight="bold" font-size="13.8" text-anchor="middle" fill="#000">16</text>
<text x="626.58" y="199.30" font-family="Liberation Sans, sans-serif" font-weight="bold" font-size="13.8" text-anchor="middle" fill="#000">18</text>
<text x="572.00" y="225.40" font-family="Liberation Sans, sans-serif" font-weight="bold" font-size="13.85" text-anchor="middle" fill="#000">Elution time (min)</text>
<line x1="584.20" y1="41.50" x2="611.60" y2="41.50" stroke="#1A5F7A" stroke-width="2.5" stroke-linecap="round"/>
<text x="626.60" y="46.40" font-family="Liberation Sans, sans-serif" font-size="13.6" text-anchor="start" fill="#000">6</text>
<line x1="584.20" y1="56.30" x2="611.60" y2="56.30" stroke="#0D6B0D" stroke-width="2.5" stroke-linecap="round"/>
<text x="626.60" y="61.20" font-family="Liberation Sans, sans-serif" font-size="13.6" text-anchor="start" fill="#000">4</text>
<line x1="584.20" y1="70.10" x2="611.60" y2="70.10" stroke="#8B8B12" stroke-width="2.5" stroke-linecap="round"/>
<text x="626.60" y="75.00" font-family="Liberation Sans, sans-serif" font-size="13.6" text-anchor="start" fill="#000">2</text>
<line x1="584.20" y1="83.80" x2="611.60" y2="83.80" stroke="#CC6A0F" stroke-width="2.5" stroke-linecap="round"/>
<text x="626.60" y="88.70" font-family="Liberation Sans, sans-serif" font-size="13.6" text-anchor="start" fill="#000">1</text>
<line x1="584.20" y1="97.60" x2="611.60" y2="97.60" stroke="#A80F1A" stroke-width="2.5" stroke-linecap="round"/>
<text x="626.60" y="102.50" font-family="Liberation Sans, sans-serif" font-size="13.6" text-anchor="start" fill="#000">0.83</text>
<line x1="584.20" y1="112.40" x2="611.60" y2="112.40" stroke="#A8782D" stroke-width="2.5" stroke-linecap="round"/>
<text x="626.60" y="117.30" font-family="Liberation Sans, sans-serif" font-size="13.6" text-anchor="start" fill="#000">0.5</text>
<line x1="584.20" y1="127.10" x2="611.60" y2="127.10" stroke="#000000" stroke-width="2.5" stroke-linecap="round"/>
<text x="626.60" y="132.00" font-family="Liberation Sans, sans-serif" font-size="13.6" text-anchor="start" fill="#000">0.33</text>
<text x="2.80" y="259.30" font-family="Liberation Sans, sans-serif" font-weight="bold" font-size="17" text-anchor="start" fill="#000">d</text>
<line x1="3.86" y1="303.20" x2="15.73" y2="310.05" stroke="#1010FF" stroke-width="1.2" stroke-linecap="round"/>
<line x1="24.74" y1="310.05" x2="36.60" y2="303.20" stroke="#1010FF" stroke-width="1.2" stroke-linecap="round"/>
<line x1="35.05" y1="303.20" x2="35.05" y2="290.30" stroke="#1010FF" stroke-width="1.2" stroke-linecap="round"/>
<line x1="38.15" y1="303.20" x2="38.15" y2="290.30" stroke="#1010FF" stroke-width="1.2" stroke-linecap="round"/>
<line x1="36.60" y1="303.20" x2="52.97" y2="312.65" stroke="#1010FF" stroke-width="1.2" stroke-linecap="round"/>
<line x1="52.97" y1="312.65" x2="52.97" y2="331.55" stroke="#1010FF" stroke-width="1.2" stroke-linecap="round"/>
<line x1="52.97" y1="312.65" x2="63.00" y2="306.86" stroke="#1010FF" stroke-width="1.2" stroke-linecap="round"/>
<line x1="63.00" y1="306.86" x2="69.34" y2="303.20" stroke="#111111" stroke-width="1.2" stroke-linecap="round"/>
<text x="20.23" y="315.94" font-family="Liberation Sans, sans-serif" font-size="10.6" text-anchor="middle" fill="#1010FF">O</text>
<text x="36.60" y="287.59" font-family="Liberation Sans, sans-serif" font-size="10.6" text-anchor="middle" fill="#1010FF">O</text>
<line x1="69.34" y1="303.20" x2="85.70" y2="312.65" stroke="#111111" stroke-width="1.2" stroke-linecap="round"/>
<line x1="85.70" y1="312.65" x2="85.70" y2="331.55" stroke="#111111" stroke-width="1.2" stroke-linecap="round"/>
<line x1="86.37" y1="332.84" x2="75.15" y2="338.67" stroke="#111111" stroke-width="1.2" stroke-linecap="round"/>
<line x1="85.04" y1="330.26" x2="73.81" y2="336.09" stroke="#111111" stroke-width="1.2" stroke-linecap="round"/>
<line x1="85.70" y1="331.55" x2="97.46" y2="337.66" stroke="#111111" stroke-width="1.2" stroke-linecap="round"/>
<line x1="99.01" y1="345.68" x2="92.81" y2="357.06" stroke="#111111" stroke-width="1.2" stroke-linecap="round"/>
<line x1="105.13" y1="345.68" x2="111.33" y2="357.06" stroke="#111111" stroke-width="1.2" stroke-linecap="round"/>
<text x="69.34" y="343.34" font-family="Liberation Sans, sans-serif" font-size="10.6" text-anchor="middle" fill="#111111">O</text>
<text x="102.07" y="343.34" font-family="Liberation Sans, sans-serif" font-size="10.6" text-anchor="middle" fill="#111111">N</text>
<path d="M65.30,298.40 H63.00 V324.80 H65.30" fill="none" stroke="#111111" stroke-width="1.2" stroke-linecap="butt" stroke-linejoin="miter"/>
<path d="M91.70,298.40 H94.00 V324.80 H91.70" fill="none" stroke="#111111" stroke-width="1.2" stroke-linecap="butt" stroke-linejoin="miter"/>
<text x="94.80" y="322.40" font-family="Liberation Sans, sans-serif" font-size="9.8" text-anchor="start" fill="#111111">n</text>
<line x1="85.70" y1="312.65" x2="97.57" y2="305.80" stroke="#111111" stroke-width="1.2" stroke-linecap="round"/>
<line x1="102.07" y1="297.50" x2="102.07" y2="284.30" stroke="#1010FF" stroke-width="1.2" stroke-linecap="round"/>
<line x1="101.32" y1="285.60" x2="90.06" y2="279.10" stroke="#1010FF" stroke-width="1.2" stroke-linecap="round"/>
<line x1="102.82" y1="283.00" x2="91.56" y2="276.50" stroke="#1010FF" stroke-width="1.2" stroke-linecap="round"/>
<line x1="102.07" y1="284.30" x2="113.94" y2="277.45" stroke="#1010FF" stroke-width="1.2" stroke-linecap="round"/>
<line x1="118.44" y1="269.15" x2="118.44" y2="255.95" stroke="#1010FF" stroke-width="1.2" stroke-linecap="round"/>
<line x1="118.44" y1="255.95" x2="134.81" y2="246.50" stroke="#1010FF" stroke-width="1.2" stroke-linecap="round"/>
<text x="102.07" y="306.49" font-family="Liberation Sans, sans-serif" font-size="10.6" text-anchor="middle" fill="#1010FF">S</text>
<text x="85.70" y="278.14" font-family="Liberation Sans, sans-serif" font-size="10.6" text-anchor="middle" fill="#1010FF">S</text>
<text x="118.44" y="278.14" font-family="Liberation Sans, sans-serif" font-size="10.6" text-anchor="middle" fill="#1010FF">S</text>
<line x1="138.00" y1="313.10" x2="163.80" y2="313.10" stroke="#000" stroke-width="1.15" stroke-linecap="butt"/>
<polygon points="169.80,313.10 159.00,310.10 160.50,313.10 159.00,316.10" fill="#000"/>
<text x="152.80" y="304.60" font-family="Liberation Sans, sans-serif" font-size="10.2" text-anchor="middle" fill="#111">hv</text>
<text x="152.30" y="327.20" font-family="Liberation Sans, sans-serif" font-size="10.2" text-anchor="middle" fill="#111">DMA</text>
<line x1="174.26" y1="302.30" x2="186.13" y2="309.15" stroke="#1010FF" stroke-width="1.2" stroke-linecap="round"/>
<line x1="195.14" y1="309.15" x2="207.00" y2="302.30" stroke="#1010FF" stroke-width="1.2" stroke-linecap="round"/>
<line x1="205.45" y1="302.30" x2="205.45" y2="289.40" stroke="#1010FF" stroke-width="1.2" stroke-linecap="round"/>
<line x1="208.55" y1="302.30" x2="208.55" y2="289.40" stroke="#1010FF" stroke-width="1.2" stroke-linecap="round"/>
<line x1="207.00" y1="302.30" x2="223.37" y2="311.75" stroke="#1010FF" stroke-width="1.2" stroke-linecap="round"/>
<line x1="223.37" y1="311.75" x2="223.37" y2="330.65" stroke="#1010FF" stroke-width="1.2" stroke-linecap="round"/>
<line x1="223.37" y1="311.75" x2="233.40" y2="305.96" stroke="#1010FF" stroke-width="1.2" stroke-linecap="round"/>
<line x1="233.40" y1="305.96" x2="239.74" y2="302.30" stroke="#111111" stroke-width="1.2" stroke-linecap="round"/>
<text x="190.63" y="315.04" font-family="Liberation Sans, sans-serif" font-size="10.6" text-anchor="middle" fill="#1010FF">O</text>
<text x="207.00" y="286.69" font-family="Liberation Sans, sans-serif" font-size="10.6" text-anchor="middle" fill="#1010FF">O</text>
<line x1="239.74" y1="302.30" x2="256.10" y2="311.75" stroke="#111111" stroke-width="1.2" stroke-linecap="round"/>
<line x1="256.10" y1="311.75" x2="256.10" y2="330.65" stroke="#111111" stroke-width="1.2" stroke-linecap="round"/>
<line x1="256.77" y1="331.94" x2="245.55" y2="337.77" stroke="#111111" stroke-width="1.2" stroke-linecap="round"/>
<line x1="255.44" y1="329.36" x2="244.21" y2="335.19" stroke="#111111" stroke-width="1.2" stroke-linecap="round"/>
<line x1="256.10" y1="330.65" x2="267.86" y2="336.76" stroke="#111111" stroke-width="1.2" stroke-linecap="round"/>
<line x1="269.41" y1="344.78" x2="263.21" y2="356.16" stroke="#111111" stroke-width="1.2" stroke-linecap="round"/>
<line x1="275.53" y1="344.78" x2="281.73" y2="356.16" stroke="#111111" stroke-width="1.2" stroke-linecap="round"/>
<text x="239.74" y="342.44" font-family="Liberation Sans, sans-serif" font-size="10.6" text-anchor="middle" fill="#111111">O</text>
<text x="272.47" y="342.44" font-family="Liberation Sans, sans-serif" font-size="10.6" text-anchor="middle" fill="#111111">N</text>
<path d="M235.70,297.40 H233.40 V323.80 H235.70" fill="none" stroke="#111111" stroke-width="1.2" stroke-linecap="butt" stroke-linejoin="miter"/>
<path d="M262.20,297.40 H264.50 V323.80 H262.20" fill="none" stroke="#111111" stroke-width="1.2" stroke-linecap="butt" stroke-linejoin="miter"/>
<text x="269.30" y="320.80" font-family="Liberation Sans, sans-serif" font-size="9.8" text-anchor="start" fill="#111111">n</text>
<line x1="256.10" y1="311.75" x2="292.80" y2="303.28" stroke="#111111" stroke-width="1.2" stroke-linecap="round"/>
<line x1="292.80" y1="303.28" x2="298.80" y2="301.90" stroke="#1A6E1A" stroke-width="1.2" stroke-linecap="round"/>
<line x1="298.80" y1="301.90" x2="315.17" y2="311.35" stroke="#1A6E1A" stroke-width="1.2" stroke-linecap="round"/>
<line x1="315.17" y1="311.35" x2="315.17" y2="330.25" stroke="#1A6E1A" stroke-width="1.2" stroke-linecap="round"/>
<line x1="315.84" y1="331.54" x2="304.62" y2="337.37" stroke="#1A6E1A" stroke-width="1.2" stroke-linecap="round"/>
<line x1="314.50" y1="328.96" x2="303.28" y2="334.79" stroke="#1A6E1A" stroke-width="1.2" stroke-linecap="round"/>
<line x1="315.17" y1="330.25" x2="326.92" y2="336.36" stroke="#1A6E1A" stroke-width="1.2" stroke-linecap="round"/>
<line x1="328.48" y1="344.38" x2="322.27" y2="355.76" stroke="#1A6E1A" stroke-width="1.2" stroke-linecap="round"/>
<line x1="334.60" y1="344.38" x2="340.80" y2="355.76" stroke="#1A6E1A" stroke-width="1.2" stroke-linecap="round"/>
<text x="298.80" y="342.04" font-family="Liberation Sans, sans-serif" font-size="10.6" text-anchor="middle" fill="#1A6E1A">O</text>
<text x="331.54" y="342.04" font-family="Liberation Sans, sans-serif" font-size="10.6" text-anchor="middle" fill="#1A6E1A">N</text>
<path d="M295.10,297.40 H292.80 V323.80 H295.10" fill="none" stroke="#1A6E1A" stroke-width="1.2" stroke-linecap="butt" stroke-linejoin="miter"/>
<path d="M321.50,297.40 H323.80 V323.80 H321.50" fill="none" stroke="#1A6E1A" stroke-width="1.2" stroke-linecap="butt" stroke-linejoin="miter"/>
<text x="328.60" y="320.80" font-family="Liberation Sans, sans-serif" font-size="9.8" text-anchor="start" fill="#111111">n</text>
<line x1="315.17" y1="311.35" x2="328.57" y2="306.85" stroke="#111111" stroke-width="1.2" stroke-linecap="round"/>
<line x1="335.10" y1="299.73" x2="338.40" y2="288.40" stroke="#1010FF" stroke-width="1.2" stroke-linecap="round"/>
<line x1="337.29" y1="289.41" x2="327.75" y2="278.88" stroke="#1010FF" stroke-width="1.2" stroke-linecap="round"/>
<line x1="339.51" y1="287.39" x2="329.97" y2="276.87" stroke="#1010FF" stroke-width="1.2" stroke-linecap="round"/>
<line x1="338.40" y1="288.40" x2="351.42" y2="283.60" stroke="#1010FF" stroke-width="1.2" stroke-linecap="round"/>
<line x1="357.95" y1="276.34" x2="361.40" y2="264.90" stroke="#1010FF" stroke-width="1.2" stroke-linecap="round"/>
<line x1="361.40" y1="264.90" x2="380.00" y2="260.10" stroke="#1010FF" stroke-width="1.2" stroke-linecap="round"/>
<text x="333.50" y="308.49" font-family="Liberation Sans, sans-serif" font-size="10.6" text-anchor="middle" fill="#1010FF">S</text>
<text x="324.90" y="276.79" font-family="Liberation Sans, sans-serif" font-size="10.6" text-anchor="middle" fill="#1010FF">S</text>
<text x="356.30" y="285.09" font-family="Liberation Sans, sans-serif" font-size="10.6" text-anchor="middle" fill="#1010FF">S</text>
<line x1="382.10" y1="312.40" x2="406.20" y2="312.40" stroke="#000" stroke-width="1.15" stroke-linecap="butt"/>
<polygon points="412.20,312.40 401.40,309.40 402.90,312.40 401.40,315.40" fill="#000"/>
<text x="394.30" y="303.90" font-family="Liberation Sans, sans-serif" font-size="10.2" text-anchor="middle" fill="#111">hv</text>
<text x="395.40" y="326.50" font-family="Liberation Sans, sans-serif" font-size="10.2" text-anchor="middle" fill="#111">DMA</text>
<line x1="419.56" y1="301.30" x2="431.43" y2="308.15" stroke="#1010FF" stroke-width="1.2" stroke-linecap="round"/>
<line x1="440.44" y1="308.15" x2="452.30" y2="301.30" stroke="#1010FF" stroke-width="1.2" stroke-linecap="round"/>
<line x1="450.75" y1="301.30" x2="450.75" y2="288.40" stroke="#1010FF" stroke-width="1.2" stroke-linecap="round"/>
<line x1="453.85" y1="301.30" x2="453.85" y2="288.40" stroke="#1010FF" stroke-width="1.2" stroke-linecap="round"/>
<line x1="452.30" y1="301.30" x2="468.67" y2="310.75" stroke="#1010FF" stroke-width="1.2" stroke-linecap="round"/>
<line x1="468.67" y1="310.75" x2="468.67" y2="329.65" stroke="#1010FF" stroke-width="1.2" stroke-linecap="round"/>
<line x1="468.67" y1="310.75" x2="478.90" y2="304.84" stroke="#1010FF" stroke-width="1.2" stroke-linecap="round"/>
<line x1="478.90" y1="304.84" x2="485.04" y2="301.30" stroke="#111111" stroke-width="1.2" stroke-linecap="round"/>
<text x="435.93" y="314.04" font-family="Liberation Sans, sans-serif" font-size="10.6" text-anchor="middle" fill="#1010FF">O</text>
<text x="452.30" y="285.69" font-family="Liberation Sans, sans-serif" font-size="10.6" text-anchor="middle" fill="#1010FF">O</text>
<line x1="485.04" y1="301.30" x2="501.40" y2="310.75" stroke="#111111" stroke-width="1.2" stroke-linecap="round"/>
<line x1="501.40" y1="310.75" x2="501.40" y2="329.65" stroke="#111111" stroke-width="1.2" stroke-linecap="round"/>
<line x1="502.07" y1="330.94" x2="490.85" y2="336.77" stroke="#111111" stroke-width="1.2" stroke-linecap="round"/>
<line x1="500.74" y1="328.36" x2="489.51" y2="334.19" stroke="#111111" stroke-width="1.2" stroke-linecap="round"/>
<line x1="501.40" y1="329.65" x2="513.16" y2="335.76" stroke="#111111" stroke-width="1.2" stroke-linecap="round"/>
<line x1="514.71" y1="343.78" x2="508.51" y2="355.16" stroke="#111111" stroke-width="1.2" stroke-linecap="round"/>
<line x1="520.83" y1="343.78" x2="527.03" y2="355.16" stroke="#111111" stroke-width="1.2" stroke-linecap="round"/>
<text x="485.04" y="341.44" font-family="Liberation Sans, sans-serif" font-size="10.6" text-anchor="middle" fill="#111111">O</text>
<text x="517.77" y="341.44" font-family="Liberation Sans, sans-serif" font-size="10.6" text-anchor="middle" fill="#111111">N</text>
<path d="M481.20,296.80 H478.90 V323.20 H481.20" fill="none" stroke="#111111" stroke-width="1.2" stroke-linecap="butt" stroke-linejoin="miter"/>
<path d="M508.20,296.80 H510.50 V323.20 H508.20" fill="none" stroke="#111111" stroke-width="1.2" stroke-linecap="butt" stroke-linejoin="miter"/>
<text x="515.30" y="320.20" font-family="Liberation Sans, sans-serif" font-size="9.8" text-anchor="start" fill="#111111">n</text>
<line x1="501.40" y1="310.75" x2="538.70" y2="302.13" stroke="#111111" stroke-width="1.2" stroke-linecap="round"/>
<line x1="538.70" y1="302.13" x2="544.00" y2="300.90" stroke="#1A6E1A" stroke-width="1.2" stroke-linecap="round"/>
<line x1="544.00" y1="300.90" x2="560.37" y2="310.35" stroke="#1A6E1A" stroke-width="1.2" stroke-linecap="round"/>
<line x1="560.37" y1="310.35" x2="560.37" y2="329.25" stroke="#1A6E1A" stroke-width="1.2" stroke-linecap="round"/>
<line x1="561.04" y1="330.54" x2="549.82" y2="336.37" stroke="#1A6E1A" stroke-width="1.2" stroke-linecap="round"/>
<line x1="559.70" y1="327.96" x2="548.48" y2="333.79" stroke="#1A6E1A" stroke-width="1.2" stroke-linecap="round"/>
<line x1="560.37" y1="329.25" x2="572.12" y2="335.36" stroke="#1A6E1A" stroke-width="1.2" stroke-linecap="round"/>
<line x1="573.68" y1="343.38" x2="567.47" y2="354.76" stroke="#1A6E1A" stroke-width="1.2" stroke-linecap="round"/>
<line x1="579.80" y1="343.38" x2="586.00" y2="354.76" stroke="#1A6E1A" stroke-width="1.2" stroke-linecap="round"/>
<text x="544.00" y="341.04" font-family="Liberation Sans, sans-serif" font-size="10.6" text-anchor="middle" fill="#1A6E1A">O</text>
<text x="576.74" y="341.04" font-family="Liberation Sans, sans-serif" font-size="10.6" text-anchor="middle" fill="#1A6E1A">N</text>
<path d="M541.00,296.90 H538.70 V323.30 H541.00" fill="none" stroke="#1A6E1A" stroke-width="1.2" stroke-linecap="butt" stroke-linejoin="miter"/>
<path d="M566.60,296.90 H568.90 V323.30 H566.60" fill="none" stroke="#1A6E1A" stroke-width="1.2" stroke-linecap="butt" stroke-linejoin="miter"/>
<text x="573.70" y="320.30" font-family="Liberation Sans, sans-serif" font-size="9.8" text-anchor="start" fill="#1A6E1A">n</text>
<line x1="560.37" y1="310.35" x2="596.40" y2="301.91" stroke="#111111" stroke-width="1.2" stroke-linecap="round"/>
<line x1="596.40" y1="301.91" x2="602.40" y2="300.50" stroke="#FF8C1A" stroke-width="1.2" stroke-linecap="round"/>
<line x1="602.40" y1="300.50" x2="618.77" y2="309.95" stroke="#FF8C1A" stroke-width="1.2" stroke-linecap="round"/>
<line x1="618.77" y1="309.95" x2="618.77" y2="328.85" stroke="#FF8C1A" stroke-width="1.2" stroke-linecap="round"/>
<line x1="619.44" y1="330.14" x2="608.22" y2="335.97" stroke="#FF8C1A" stroke-width="1.2" stroke-linecap="round"/>
<line x1="618.10" y1="327.56" x2="606.88" y2="333.39" stroke="#FF8C1A" stroke-width="1.2" stroke-linecap="round"/>
<line x1="618.77" y1="328.85" x2="630.52" y2="334.96" stroke="#111111" stroke-width="1.2" stroke-linecap="round"/>
<line x1="632.08" y1="342.98" x2="625.87" y2="354.36" stroke="#FF8C1A" stroke-width="1.2" stroke-linecap="round"/>
<line x1="638.20" y1="342.98" x2="644.40" y2="354.36" stroke="#FF8C1A" stroke-width="1.2" stroke-linecap="round"/>
<text x="602.40" y="340.64" font-family="Liberation Sans, sans-serif" font-size="10.6" text-anchor="middle" fill="#FF8C1A">O</text>
<text x="635.14" y="340.64" font-family="Liberation Sans, sans-serif" font-size="10.6" text-anchor="middle" fill="#FF8C1A">N</text>
<path d="M598.70,296.90 H596.40 V323.30 H598.70" fill="none" stroke="#FF8C1A" stroke-width="1.2" stroke-linecap="butt" stroke-linejoin="miter"/>
<path d="M624.50,296.90 H626.80 V323.30 H624.50" fill="none" stroke="#FF8C1A" stroke-width="1.2" stroke-linecap="butt" stroke-linejoin="miter"/>
<text x="631.60" y="320.30" font-family="Liberation Sans, sans-serif" font-size="9.8" text-anchor="start" fill="#FF8C1A">n</text>
<line x1="618.77" y1="309.95" x2="632.61" y2="305.87" stroke="#111111" stroke-width="1.2" stroke-linecap="round"/>
<line x1="639.20" y1="298.93" x2="642.50" y2="287.60" stroke="#1010FF" stroke-width="1.2" stroke-linecap="round"/>
<line x1="641.39" y1="288.61" x2="631.85" y2="278.08" stroke="#1010FF" stroke-width="1.2" stroke-linecap="round"/>
<line x1="643.61" y1="286.59" x2="634.07" y2="276.07" stroke="#1010FF" stroke-width="1.2" stroke-linecap="round"/>
<line x1="642.50" y1="287.60" x2="655.52" y2="282.80" stroke="#1010FF" stroke-width="1.2" stroke-linecap="round"/>
<line x1="662.05" y1="275.54" x2="665.50" y2="264.10" stroke="#1010FF" stroke-width="1.2" stroke-linecap="round"/>
<line x1="665.50" y1="264.10" x2="684.10" y2="259.30" stroke="#1010FF" stroke-width="1.2" stroke-linecap="round"/>
<text x="637.60" y="307.69" font-family="Liberation Sans, sans-serif" font-size="10.6" text-anchor="middle" fill="#1010FF">S</text>
<text x="629.00" y="275.99" font-family="Liberation Sans, sans-serif" font-size="10.6" text-anchor="middle" fill="#1010FF">S</text>
<text x="660.40" y="284.29" font-family="Liberation Sans, sans-serif" font-size="10.6" text-anchor="middle" fill="#1010FF">S</text>
<path d="M296.72,468.00 L297.35,468.00 L297.99,468.00 L298.62,468.00 L299.25,468.00 L299.89,468.00 L300.52,468.00 L301.15,468.00 L301.79,468.00 L302.42,468.00 L303.05,467.99 L303.69,467.99 L304.32,467.99 L304.95,467.98 L305.58,467.98 L306.22,467.97 L306.85,467.96 L307.48,467.95 L308.12,467.93 L308.75,467.91 L309.38,467.88 L310.02,467.85 L310.65,467.81 L311.28,467.75 L311.92,467.68 L312.55,467.60 L313.18,467.49 L313.82,467.36 L314.45,467.20 L315.08,467.00 L315.72,466.76 L316.35,466.47 L316.98,466.13 L317.62,465.72 L318.25,465.23 L318.88,464.65 L319.51,463.98 L320.15,463.20 L320.78,462.29 L321.41,461.24 L322.05,460.04 L322.68,458.68 L323.31,457.14 L323.95,455.40 L324.58,453.47 L325.21,451.32 L325.85,448.95 L326.48,446.35 L327.11,443.53 L327.75,440.47 L328.38,437.19 L329.01,433.70 L329.65,429.99 L330.28,426.11 L330.91,422.05 L331.55,417.86 L332.18,413.57 L332.81,409.20 L333.44,404.80 L334.08,400.42 L334.71,396.09 L335.34,391.88 L335.98,387.83 L336.61,383.98 L337.24,380.40 L337.88,377.13 L338.51,374.20 L339.14,371.67 L339.78,369.58 L340.41,367.94 L341.04,366.79 L341.68,366.15 L342.31,366.02 L342.94,366.47 L343.58,367.48 L344.21,369.02 L344.84,371.01 L345.48,373.41 L346.11,376.15 L346.74,379.17 L347.37,382.43 L348.01,385.86 L348.64,389.41 L349.27,393.05 L349.91,396.72 L350.54,400.39 L351.17,404.04 L351.81,407.62 L352.44,411.13 L353.07,414.53 L353.71,417.82 L354.34,420.98 L354.97,424.00 L355.61,426.88 L356.24,429.62 L356.87,432.20 L357.51,434.64 L358.14,436.94 L358.77,439.09 L359.41,441.10 L360.04,442.98 L360.67,444.73 L361.31,446.35 L361.94,447.86 L362.57,449.26 L363.20,450.55 L363.84,451.75 L364.47,452.85 L365.10,453.87 L365.74,454.80 L366.37,455.66 L367.00,456.45 L367.64,457.17 L368.27,457.84 L368.90,458.45 L369.54,459.01 L370.17,459.52 L370.80,459.99 L371.44,460.41 L372.07,460.80 L372.70,461.16 L373.34,461.49 L373.97,461.79 L374.60,462.06 L375.24,462.31 L375.87,462.54 L376.50,462.74 L377.13,462.93 L377.77,463.10 L378.40,463.26 L379.03,463.40 L379.67,463.54 L380.30,463.66 L380.93,463.76 L381.57,463.86 L382.20,463.96 L382.83,464.04 L383.47,464.11 L384.10,464.18 L384.73,464.25 L385.37,464.30 L386.00,464.36 L386.63,464.41 L387.27,464.45 L387.90,464.49 L388.53,464.53 L389.17,464.56 L389.80,464.59 L390.43,464.62 L391.06,464.65 L391.70,464.67 L392.33,464.69 L392.96,464.71 L393.60,464.73 L394.23,464.75 L394.86,464.76 L395.50,464.77 L396.13,464.79 L396.76,464.80 L397.40,464.81 L398.03,464.82" fill="none" stroke="#000" stroke-width="2.7" stroke-linecap="round" stroke-linejoin="round"/>
<path d="M275.23,468.00 L275.91,468.00 L276.59,468.00 L277.27,467.99 L277.95,467.99 L278.64,467.99 L279.32,467.99 L280.00,467.98 L280.68,467.98 L281.36,467.97 L282.04,467.96 L282.72,467.94 L283.40,467.93 L284.09,467.90 L284.77,467.87 L285.45,467.84 L286.13,467.79 L286.81,467.73 L287.49,467.65 L288.17,467.56 L288.85,467.45 L289.53,467.30 L290.22,467.13 L290.90,466.92 L291.58,466.66 L292.26,466.35 L292.94,465.98 L293.62,465.54 L294.30,465.01 L294.98,464.40 L295.66,463.67 L296.35,462.83 L297.03,461.86 L297.71,460.75 L298.39,459.47 L299.07,458.02 L299.75,456.39 L300.43,454.55 L301.11,452.51 L301.80,450.25 L302.48,447.76 L303.16,445.03 L303.84,442.08 L304.52,438.89 L305.20,435.48 L305.88,431.86 L306.56,428.04 L307.24,424.04 L307.93,419.88 L308.61,415.60 L309.29,411.24 L309.97,406.82 L310.65,402.40 L311.33,398.01 L312.01,393.72 L312.69,389.56 L313.37,385.60 L314.06,381.87 L314.74,378.44 L315.42,375.35 L316.10,372.64 L316.78,370.35 L317.46,368.52 L318.14,367.17 L318.82,366.33 L319.51,366.00 L320.19,366.28 L320.87,367.23 L321.55,368.78 L322.23,370.86 L322.91,373.38 L323.59,376.26 L324.27,379.44 L324.95,382.84 L325.64,386.41 L326.32,390.07 L327.00,393.79 L327.68,397.52 L328.36,401.23 L329.04,404.88 L329.72,408.45 L330.40,411.92 L331.08,415.27 L331.77,418.50 L332.45,421.58 L333.13,424.53 L333.81,427.33 L334.49,429.99 L335.17,432.50 L335.85,434.86 L336.53,437.09 L337.22,439.19 L337.90,441.15 L338.58,442.99 L339.26,444.71 L339.94,446.31 L340.62,447.81 L341.30,449.21 L341.98,450.51 L342.66,451.73 L343.35,452.85 L344.03,453.90 L344.71,454.88 L345.39,455.78 L346.07,456.62 L346.75,457.40 L347.43,458.13 L348.11,458.80 L348.79,459.43 L349.48,460.01 L350.16,460.55 L350.84,461.05 L351.52,461.51 L352.20,461.94 L352.88,462.35 L353.56,462.72 L354.24,463.06 L354.93,463.38 L355.61,463.68 L356.29,463.96 L356.97,464.22 L357.65,464.46 L358.33,464.68 L359.01,464.89 L359.69,465.08 L360.37,465.26 L361.06,465.43 L361.74,465.59 L362.42,465.74 L363.10,465.87 L363.78,466.00 L364.46,466.12 L365.14,466.23 L365.82,466.33 L366.50,466.43 L367.19,466.52 L367.87,466.60 L368.55,466.68 L369.23,466.76 L369.91,466.83 L370.59,466.89 L371.27,466.95 L371.95,467.01 L372.64,467.06 L373.32,467.11 L374.00,467.16 L374.68,467.21 L375.36,467.25 L376.04,467.29 L376.72,467.32 L377.40,467.36 L378.08,467.39 L378.77,467.42 L379.45,467.45 L380.13,467.48 L380.81,467.50 L381.49,467.53 L382.17,467.55 L382.85,467.57 L383.53,467.59 L384.21,467.61" fill="none" stroke="#0F6B0F" stroke-width="2.7" stroke-linecap="round" stroke-linejoin="round"/>
<path d="M253.43,468.00 L254.30,467.99 L255.16,467.99 L256.03,467.99 L256.89,467.98 L257.76,467.98 L258.63,467.97 L259.49,467.96 L260.36,467.94 L261.22,467.92 L262.09,467.90 L262.95,467.87 L263.82,467.82 L264.68,467.77 L265.55,467.70 L266.41,467.61 L267.28,467.49 L268.14,467.35 L269.01,467.17 L269.87,466.95 L270.74,466.68 L271.61,466.35 L272.47,465.94 L273.34,465.46 L274.20,464.87 L275.07,464.17 L275.93,463.35 L276.80,462.38 L277.66,461.26 L278.53,459.95 L279.39,458.45 L280.26,456.73 L281.12,454.79 L281.99,452.60 L282.86,450.16 L283.72,447.46 L284.59,444.48 L285.45,441.24 L286.32,437.72 L287.18,433.95 L288.05,429.94 L288.91,425.71 L289.78,421.28 L290.64,416.70 L291.51,412.01 L292.37,407.25 L293.24,402.47 L294.10,397.74 L294.97,393.12 L295.84,388.67 L296.70,384.46 L297.57,380.54 L298.43,376.99 L299.30,373.85 L300.16,371.18 L301.03,369.03 L301.89,367.44 L302.76,366.42 L303.62,366.01 L304.49,366.29 L305.35,367.35 L306.22,369.09 L307.09,371.39 L307.95,374.16 L308.82,377.28 L309.68,380.67 L310.55,384.24 L311.41,387.93 L312.28,391.68 L313.14,395.44 L314.01,399.17 L314.87,402.82 L315.74,406.39 L316.60,409.84 L317.47,413.16 L318.33,416.35 L319.20,419.40 L320.07,422.29 L320.93,425.04 L321.80,427.64 L322.66,430.10 L323.53,432.41 L324.39,434.59 L325.26,436.64 L326.12,438.56 L326.99,440.36 L327.85,442.05 L328.72,443.63 L329.58,445.10 L330.45,446.49 L331.32,447.78 L332.18,448.99 L333.05,450.12 L333.91,451.18 L334.78,452.16 L335.64,453.09 L336.51,453.95 L337.37,454.75 L338.24,455.51 L339.10,456.21 L339.97,456.87 L340.83,457.49 L341.70,458.07 L342.56,458.61 L343.43,459.12 L344.30,459.59 L345.16,460.04 L346.03,460.45 L346.89,460.85 L347.76,461.21 L348.62,461.56 L349.49,461.88 L350.35,462.19 L351.22,462.48 L352.08,462.75 L352.95,463.00 L353.81,463.24 L354.68,463.47 L355.55,463.68 L356.41,463.88 L357.28,464.07 L358.14,464.25 L359.01,464.41 L359.87,464.57 L360.74,464.73 L361.60,464.87 L362.47,465.00 L363.33,465.13 L364.20,465.25 L365.06,465.37 L365.93,465.47 L366.79,465.58 L367.66,465.68 L368.53,465.77 L369.39,465.86 L370.26,465.94 L371.12,466.02 L371.99,466.10 L372.85,466.17 L373.72,466.24 L374.58,466.30 L375.45,466.37 L376.31,466.42 L377.18,466.48 L378.04,466.54 L378.91,466.59 L379.78,466.64 L380.64,466.68 L381.51,466.73 L382.37,466.77 L383.24,466.81 L384.10,466.85 L384.97,466.89 L385.83,466.93 L386.70,466.96 L387.56,466.99 L388.43,467.03 L389.29,467.06 L390.16,467.08 L391.02,467.11 L391.89,467.14" fill="none" stroke="#FF8C1A" stroke-width="2.7" stroke-linecap="round" stroke-linejoin="round"/>
<line x1="247.00" y1="468.00" x2="401.60" y2="468.00" stroke="#000" stroke-width="2.55" stroke-linecap="butt"/>
<line x1="247.60" y1="468.00" x2="247.60" y2="478.00" stroke="#000" stroke-width="2.55" stroke-linecap="butt"/>
<text x="247.60" y="492.70" font-family="Liberation Sans, sans-serif" font-weight="bold" font-size="13.8" text-anchor="middle" fill="#000">12</text>
<line x1="262.95" y1="468.00" x2="262.95" y2="473.60" stroke="#000" stroke-width="2.55" stroke-linecap="butt"/>
<line x1="278.30" y1="468.00" x2="278.30" y2="478.00" stroke="#000" stroke-width="2.55" stroke-linecap="butt"/>
<text x="278.30" y="492.70" font-family="Liberation Sans, sans-serif" font-weight="bold" font-size="13.8" text-anchor="middle" fill="#000">13</text>
<line x1="293.65" y1="468.00" x2="293.65" y2="473.60" stroke="#000" stroke-width="2.55" stroke-linecap="butt"/>
<line x1="309.00" y1="468.00" x2="309.00" y2="478.00" stroke="#000" stroke-width="2.55" stroke-linecap="butt"/>
<text x="309.00" y="492.70" font-family="Liberation Sans, sans-serif" font-weight="bold" font-size="13.8" text-anchor="middle" fill="#000">14</text>
<line x1="324.35" y1="468.00" x2="324.35" y2="473.60" stroke="#000" stroke-width="2.55" stroke-linecap="butt"/>
<line x1="339.70" y1="468.00" x2="339.70" y2="478.00" stroke="#000" stroke-width="2.55" stroke-linecap="butt"/>
<text x="339.70" y="492.70" font-family="Liberation Sans, sans-serif" font-weight="bold" font-size="13.8" text-anchor="middle" fill="#000">15</text>
<line x1="355.05" y1="468.00" x2="355.05" y2="473.60" stroke="#000" stroke-width="2.55" stroke-linecap="butt"/>
<line x1="370.40" y1="468.00" x2="370.40" y2="478.00" stroke="#000" stroke-width="2.55" stroke-linecap="butt"/>
<text x="370.40" y="492.70" font-family="Liberation Sans, sans-serif" font-weight="bold" font-size="13.8" text-anchor="middle" fill="#000">16</text>
<line x1="385.75" y1="468.00" x2="385.75" y2="473.60" stroke="#000" stroke-width="2.55" stroke-linecap="butt"/>
<line x1="401.10" y1="468.00" x2="401.10" y2="478.00" stroke="#000" stroke-width="2.55" stroke-linecap="butt"/>
<text x="401.10" y="492.70" font-family="Liberation Sans, sans-serif" font-weight="bold" font-size="13.8" text-anchor="middle" fill="#000">17</text>
<text x="324.30" y="518.00" font-family="Liberation Sans, sans-serif" font-weight="bold" font-size="13.85" text-anchor="middle" fill="#000">Elution time (min)</text>
<line x1="411.30" y1="378.20" x2="439.00" y2="378.20" stroke="#FF8C1A" stroke-width="2.4" stroke-linecap="round"/>
<text x="454.20" y="383.20" font-family="Liberation Sans, sans-serif" font-size="13.7" text-anchor="start" fill="#000">triblock PDMA</text>
<line x1="411.30" y1="408.40" x2="439.00" y2="408.40" stroke="#0F6B0F" stroke-width="2.4" stroke-linecap="round"/>
<text x="454.20" y="413.40" font-family="Liberation Sans, sans-serif" font-size="13.7" text-anchor="start" fill="#000">deblock PDMA</text>
<line x1="411.30" y1="437.10" x2="439.00" y2="437.10" stroke="#000" stroke-width="2.4" stroke-linecap="round"/>
<text x="454.20" y="442.10" font-family="Liberation Sans, sans-serif" font-size="13.7" text-anchor="start" fill="#000">PDMA</text>
<text x="1.80" y="530.20" font-family="Liberation Sans, sans-serif" font-weight="bold" font-size="17" text-anchor="start" fill="#000">e</text>
<rect x="49.90" y="541.30" width="10.93" height="153.10" fill="#C8DCF6" stroke="none" stroke-width="0"/>
<rect x="67.16" y="541.30" width="12.66" height="153.10" fill="#C8DCF6" stroke="none" stroke-width="0"/>
<rect x="87.87" y="541.30" width="19.94" height="153.10" fill="#C8DCF6" stroke="none" stroke-width="0"/>
<rect x="125.83" y="541.30" width="19.94" height="153.10" fill="#C8DCF6" stroke="none" stroke-width="0"/>
<rect x="163.61" y="541.30" width="39.69" height="153.10" fill="#C8DCF6" stroke="none" stroke-width="0"/>
<path d="M49.90,694.40 L59.10,636.68 L68.50,636.68 L78.47,612.80 L87.87,613.26 L106.85,589.53 L126.22,589.53 L145.78,568.40 L164.95,568.40 L203.30,543.60" fill="none" stroke="#000" stroke-width="2.8" stroke-linecap="round" stroke-linejoin="round"/>
<circle cx="59.10" cy="636.68" r="2.7" fill="#000" stroke="none" stroke-width="0"/>
<circle cx="68.50" cy="636.68" r="2.7" fill="#000" stroke="none" stroke-width="0"/>
<circle cx="78.47" cy="612.80" r="2.7" fill="#000" stroke="none" stroke-width="0"/>
<circle cx="87.87" cy="613.26" r="2.7" fill="#000" stroke="none" stroke-width="0"/>
<circle cx="106.85" cy="589.53" r="2.7" fill="#000" stroke="none" stroke-width="0"/>
<circle cx="126.22" cy="589.53" r="2.7" fill="#000" stroke="none" stroke-width="0"/>
<circle cx="145.78" cy="568.40" r="2.7" fill="#000" stroke="none" stroke-width="0"/>
<circle cx="164.95" cy="568.40" r="2.7" fill="#000" stroke="none" stroke-width="0"/>
<circle cx="203.30" cy="543.60" r="2.7" fill="#000" stroke="none" stroke-width="0"/>
<rect x="49.90" y="541.30" width="153.40" height="153.10" fill="none" stroke="#000" stroke-width="2.55"/>
<line x1="41.40" y1="694.40" x2="49.90" y2="694.40" stroke="#000" stroke-width="2.55" stroke-linecap="butt"/>
<text x="39.40" y="699.70" font-family="Liberation Sans, sans-serif" font-weight="bold" font-size="13.8" text-anchor="end" fill="#000">0</text>
<line x1="41.40" y1="663.78" x2="49.90" y2="663.78" stroke="#000" stroke-width="2.55" stroke-linecap="butt"/>
<text x="39.40" y="669.08" font-family="Liberation Sans, sans-serif" font-weight="bold" font-size="13.8" text-anchor="end" fill="#000">20</text>
<line x1="41.40" y1="633.16" x2="49.90" y2="633.16" stroke="#000" stroke-width="2.55" stroke-linecap="butt"/>
<text x="39.40" y="638.46" font-family="Liberation Sans, sans-serif" font-weight="bold" font-size="13.8" text-anchor="end" fill="#000">40</text>
<line x1="41.40" y1="602.54" x2="49.90" y2="602.54" stroke="#000" stroke-width="2.55" stroke-linecap="butt"/>
<text x="39.40" y="607.84" font-family="Liberation Sans, sans-serif" font-weight="bold" font-size="13.8" text-anchor="end" fill="#000">60</text>
<line x1="41.40" y1="571.92" x2="49.90" y2="571.92" stroke="#000" stroke-width="2.55" stroke-linecap="butt"/>
<text x="39.40" y="577.22" font-family="Liberation Sans, sans-serif" font-weight="bold" font-size="13.8" text-anchor="end" fill="#000">80</text>
<line x1="41.40" y1="541.30" x2="49.90" y2="541.30" stroke="#000" stroke-width="2.55" stroke-linecap="butt"/>
<text x="39.40" y="546.60" font-family="Liberation Sans, sans-serif" font-weight="bold" font-size="13.8" text-anchor="end" fill="#000">100</text>
<line x1="44.90" y1="679.09" x2="49.90" y2="679.09" stroke="#000" stroke-width="2.55" stroke-linecap="butt"/>
<line x1="44.90" y1="648.47" x2="49.90" y2="648.47" stroke="#000" stroke-width="2.55" stroke-linecap="butt"/>
<line x1="44.90" y1="617.85" x2="49.90" y2="617.85" stroke="#000" stroke-width="2.55" stroke-linecap="butt"/>
<line x1="44.90" y1="587.23" x2="49.90" y2="587.23" stroke="#000" stroke-width="2.55" stroke-linecap="butt"/>
<line x1="44.90" y1="556.61" x2="49.90" y2="556.61" stroke="#000" stroke-width="2.55" stroke-linecap="butt"/>
<line x1="49.90" y1="694.40" x2="49.90" y2="703.50" stroke="#000" stroke-width="2.55" stroke-linecap="butt"/>
<text x="49.90" y="718.20" font-family="Liberation Sans, sans-serif" font-weight="bold" font-size="13.8" text-anchor="middle" fill="#000">0</text>
<line x1="88.25" y1="694.40" x2="88.25" y2="703.50" stroke="#000" stroke-width="2.55" stroke-linecap="butt"/>
<text x="88.25" y="718.20" font-family="Liberation Sans, sans-serif" font-weight="bold" font-size="13.8" text-anchor="middle" fill="#000">2</text>
<line x1="126.60" y1="694.40" x2="126.60" y2="703.50" stroke="#000" stroke-width="2.55" stroke-linecap="butt"/>
<text x="126.60" y="718.20" font-family="Liberation Sans, sans-serif" font-weight="bold" font-size="13.8" text-anchor="middle" fill="#000">4</text>
<line x1="164.95" y1="694.40" x2="164.95" y2="703.50" stroke="#000" stroke-width="2.55" stroke-linecap="butt"/>
<text x="164.95" y="718.20" font-family="Liberation Sans, sans-serif" font-weight="bold" font-size="13.8" text-anchor="middle" fill="#000">6</text>
<line x1="203.30" y1="694.40" x2="203.30" y2="703.50" stroke="#000" stroke-width="2.55" stroke-linecap="butt"/>
<text x="203.30" y="718.20" font-family="Liberation Sans, sans-serif" font-weight="bold" font-size="13.8" text-anchor="middle" fill="#000">8</text>
<text x="127.00" y="744.30" font-family="Liberation Sans, sans-serif" font-weight="bold" font-size="13.85" text-anchor="middle" fill="#000">Time (h)</text>
<text x="10.20" y="620.50" font-family="Liberation Sans, sans-serif" font-weight="bold" font-size="13.85" text-anchor="middle" fill="#000" transform="rotate(-90 10.20 620.50)">Convesion (%)</text>
<text x="117.00" y="567.20" font-family="Liberation Sans, sans-serif" font-weight="bold" font-size="8.4" text-anchor="middle" fill="#000">OFF</text>
<text x="135.80" y="623.70" font-family="Liberation Sans, sans-serif" font-weight="bold" font-size="8.4" text-anchor="middle" fill="#000">ON</text>
<text x="215.60" y="534.20" font-family="Liberation Sans, sans-serif" font-weight="bold" font-size="17" text-anchor="start" fill="#000">f</text>
<line x1="302.20" y1="694.40" x2="311.00" y2="694.40" stroke="#444" stroke-width="0.8" stroke-linecap="butt"/>
<rect x="311.00" y="689.32" width="8.80" height="5.88" fill="#D95F02" stroke="none" stroke-width="0"/>
<circle cx="312.70" cy="689.41" r="1.3" fill="#fff" stroke="#000" stroke-width="0.75"/>
<circle cx="315.40" cy="689.32" r="1.3" fill="#fff" stroke="#000" stroke-width="0.75"/>
<circle cx="318.10" cy="689.24" r="1.3" fill="#fff" stroke="#000" stroke-width="0.75"/>
<rect x="327.80" y="682.51" width="8.80" height="12.69" fill="#1B9E77" stroke="none" stroke-width="0"/>
<circle cx="329.50" cy="681.91" r="1.3" fill="#fff" stroke="#000" stroke-width="0.75"/>
<circle cx="332.20" cy="682.59" r="1.3" fill="#fff" stroke="#000" stroke-width="0.75"/>
<circle cx="334.90" cy="683.02" r="1.3" fill="#fff" stroke="#000" stroke-width="0.75"/>
<rect x="336.60" y="638.23" width="8.80" height="56.97" fill="#D95F02" stroke="none" stroke-width="0"/>
<line x1="341.00" y1="637.39" x2="341.00" y2="639.07" stroke="#000" stroke-width="0.6" stroke-linecap="butt"/>
<line x1="339.10" y1="637.39" x2="342.90" y2="637.39" stroke="#000" stroke-width="0.6" stroke-linecap="butt"/>
<line x1="339.10" y1="639.07" x2="342.90" y2="639.07" stroke="#000" stroke-width="0.6" stroke-linecap="butt"/>
<circle cx="338.30" cy="637.26" r="1.3" fill="#fff" stroke="#000" stroke-width="0.75"/>
<circle cx="341.00" cy="638.63" r="1.3" fill="#fff" stroke="#000" stroke-width="0.75"/>
<circle cx="343.70" cy="638.80" r="1.3" fill="#fff" stroke="#000" stroke-width="0.75"/>
<rect x="353.40" y="666.91" width="8.80" height="28.29" fill="#1B9E77" stroke="none" stroke-width="0"/>
<circle cx="355.10" cy="667.08" r="1.3" fill="#fff" stroke="#000" stroke-width="0.75"/>
<circle cx="357.80" cy="666.57" r="1.3" fill="#fff" stroke="#000" stroke-width="0.75"/>
<circle cx="360.50" cy="667.08" r="1.3" fill="#fff" stroke="#000" stroke-width="0.75"/>
<rect x="362.20" y="617.19" width="8.80" height="78.01" fill="#D95F02" stroke="none" stroke-width="0"/>
<line x1="366.60" y1="614.63" x2="366.60" y2="619.74" stroke="#000" stroke-width="0.6" stroke-linecap="butt"/>
<line x1="364.70" y1="614.63" x2="368.50" y2="614.63" stroke="#000" stroke-width="0.6" stroke-linecap="butt"/>
<line x1="364.70" y1="619.74" x2="368.50" y2="619.74" stroke="#000" stroke-width="0.6" stroke-linecap="butt"/>
<circle cx="366.60" cy="614.60" r="1.3" fill="#fff" stroke="#000" stroke-width="0.75"/>
<circle cx="366.60" cy="617.24" r="1.3" fill="#fff" stroke="#000" stroke-width="0.75"/>
<circle cx="366.60" cy="619.71" r="1.3" fill="#fff" stroke="#000" stroke-width="0.75"/>
<rect x="379.00" y="659.47" width="8.80" height="35.73" fill="#1B9E77" stroke="none" stroke-width="0"/>
<circle cx="380.70" cy="659.93" r="1.3" fill="#fff" stroke="#000" stroke-width="0.75"/>
<circle cx="383.40" cy="658.90" r="1.3" fill="#fff" stroke="#000" stroke-width="0.75"/>
<circle cx="386.10" cy="659.59" r="1.3" fill="#fff" stroke="#000" stroke-width="0.75"/>
<rect x="387.80" y="613.86" width="8.80" height="81.34" fill="#D95F02" stroke="none" stroke-width="0"/>
<line x1="392.20" y1="613.02" x2="392.20" y2="614.70" stroke="#000" stroke-width="0.6" stroke-linecap="butt"/>
<line x1="390.30" y1="613.02" x2="394.10" y2="613.02" stroke="#000" stroke-width="0.6" stroke-linecap="butt"/>
<line x1="390.30" y1="614.70" x2="394.10" y2="614.70" stroke="#000" stroke-width="0.6" stroke-linecap="butt"/>
<circle cx="389.50" cy="612.90" r="1.3" fill="#fff" stroke="#000" stroke-width="0.75"/>
<circle cx="392.20" cy="614.26" r="1.3" fill="#fff" stroke="#000" stroke-width="0.75"/>
<circle cx="394.90" cy="614.43" r="1.3" fill="#fff" stroke="#000" stroke-width="0.75"/>
<rect x="404.60" y="648.68" width="8.80" height="46.52" fill="#1B9E77" stroke="none" stroke-width="0"/>
<line x1="409.00" y1="646.43" x2="409.00" y2="650.93" stroke="#000" stroke-width="0.6" stroke-linecap="butt"/>
<line x1="407.10" y1="646.43" x2="410.90" y2="646.43" stroke="#000" stroke-width="0.6" stroke-linecap="butt"/>
<line x1="407.10" y1="650.93" x2="410.90" y2="650.93" stroke="#000" stroke-width="0.6" stroke-linecap="butt"/>
<circle cx="406.30" cy="650.38" r="1.3" fill="#fff" stroke="#000" stroke-width="0.75"/>
<circle cx="409.00" cy="649.53" r="1.3" fill="#fff" stroke="#000" stroke-width="0.75"/>
<circle cx="411.70" cy="646.12" r="1.3" fill="#fff" stroke="#000" stroke-width="0.75"/>
<rect x="413.40" y="610.23" width="8.80" height="84.97" fill="#D95F02" stroke="none" stroke-width="0"/>
<circle cx="415.10" cy="610.51" r="1.3" fill="#fff" stroke="#000" stroke-width="0.75"/>
<circle cx="417.80" cy="609.83" r="1.3" fill="#fff" stroke="#000" stroke-width="0.75"/>
<circle cx="420.50" cy="610.34" r="1.3" fill="#fff" stroke="#000" stroke-width="0.75"/>
<line x1="315.00" y1="588.00" x2="315.00" y2="594.00" stroke="#D95F02" stroke-width="0.9" stroke-linecap="butt"/>
<line x1="313.20" y1="588.00" x2="316.80" y2="588.00" stroke="#D95F02" stroke-width="0.9" stroke-linecap="butt"/>
<line x1="313.20" y1="594.00" x2="316.80" y2="594.00" stroke="#D95F02" stroke-width="0.9" stroke-linecap="butt"/>
<line x1="311.60" y1="591.20" x2="318.40" y2="591.20" stroke="#222" stroke-width="0.7" stroke-linecap="butt"/>
<circle cx="315.00" cy="589.00" r="1.45" fill="#000" stroke="none" stroke-width="0"/>
<circle cx="315.00" cy="592.00" r="1.45" fill="#000" stroke="none" stroke-width="0"/>
<line x1="331.40" y1="552.00" x2="331.40" y2="569.40" stroke="#1B9E77" stroke-width="0.9" stroke-linecap="butt"/>
<line x1="329.60" y1="552.00" x2="333.20" y2="552.00" stroke="#1B9E77" stroke-width="0.9" stroke-linecap="butt"/>
<line x1="329.60" y1="569.40" x2="333.20" y2="569.40" stroke="#1B9E77" stroke-width="0.9" stroke-linecap="butt"/>
<line x1="328.00" y1="560.40" x2="334.80" y2="560.40" stroke="#222" stroke-width="0.7" stroke-linecap="butt"/>
<circle cx="331.40" cy="553.60" r="1.45" fill="#000" stroke="none" stroke-width="0"/>
<circle cx="331.40" cy="559.00" r="1.45" fill="#000" stroke="none" stroke-width="0"/>
<circle cx="331.40" cy="569.40" r="1.45" fill="#000" stroke="none" stroke-width="0"/>
<line x1="341.00" y1="584.00" x2="341.00" y2="591.00" stroke="#D95F02" stroke-width="0.9" stroke-linecap="butt"/>
<line x1="339.20" y1="584.00" x2="342.80" y2="584.00" stroke="#D95F02" stroke-width="0.9" stroke-linecap="butt"/>
<line x1="339.20" y1="591.00" x2="342.80" y2="591.00" stroke="#D95F02" stroke-width="0.9" stroke-linecap="butt"/>
<line x1="337.60" y1="587.40" x2="344.40" y2="587.40" stroke="#222" stroke-width="0.7" stroke-linecap="butt"/>
<circle cx="341.00" cy="583.00" r="1.45" fill="#000" stroke="none" stroke-width="0"/>
<circle cx="341.00" cy="587.40" r="1.45" fill="#000" stroke="none" stroke-width="0"/>
<circle cx="341.00" cy="590.60" r="1.45" fill="#000" stroke="none" stroke-width="0"/>
<line x1="357.60" y1="574.00" x2="357.60" y2="586.00" stroke="#1B9E77" stroke-width="0.9" stroke-linecap="butt"/>
<line x1="355.80" y1="574.00" x2="359.40" y2="574.00" stroke="#1B9E77" stroke-width="0.9" stroke-linecap="butt"/>
<line x1="355.80" y1="586.00" x2="359.40" y2="586.00" stroke="#1B9E77" stroke-width="0.9" stroke-linecap="butt"/>
<line x1="354.20" y1="581.00" x2="361.00" y2="581.00" stroke="#222" stroke-width="0.7" stroke-linecap="butt"/>
<circle cx="357.60" cy="575.00" r="1.45" fill="#000" stroke="none" stroke-width="0"/>
<circle cx="357.60" cy="582.60" r="1.45" fill="#000" stroke="none" stroke-width="0"/>
<circle cx="357.60" cy="585.60" r="1.45" fill="#000" stroke="none" stroke-width="0"/>
<line x1="367.40" y1="575.60" x2="367.40" y2="585.00" stroke="#D95F02" stroke-width="0.9" stroke-linecap="butt"/>
<line x1="365.60" y1="575.60" x2="369.20" y2="575.60" stroke="#D95F02" stroke-width="0.9" stroke-linecap="butt"/>
<line x1="365.60" y1="585.00" x2="369.20" y2="585.00" stroke="#D95F02" stroke-width="0.9" stroke-linecap="butt"/>
<line x1="364.00" y1="580.00" x2="370.80" y2="580.00" stroke="#222" stroke-width="0.7" stroke-linecap="butt"/>
<circle cx="365.80" cy="577.20" r="1.45" fill="#000" stroke="none" stroke-width="0"/>
<circle cx="369.00" cy="577.20" r="1.45" fill="#000" stroke="none" stroke-width="0"/>
<circle cx="367.40" cy="585.40" r="1.45" fill="#000" stroke="none" stroke-width="0"/>
<line x1="383.40" y1="579.40" x2="383.40" y2="591.00" stroke="#1B9E77" stroke-width="0.9" stroke-linecap="butt"/>
<line x1="381.60" y1="579.40" x2="385.20" y2="579.40" stroke="#1B9E77" stroke-width="0.9" stroke-linecap="butt"/>
<line x1="381.60" y1="591.00" x2="385.20" y2="591.00" stroke="#1B9E77" stroke-width="0.9" stroke-linecap="butt"/>
<line x1="380.00" y1="584.00" x2="386.80" y2="584.00" stroke="#222" stroke-width="0.7" stroke-linecap="butt"/>
<circle cx="383.40" cy="580.00" r="1.45" fill="#000" stroke="none" stroke-width="0"/>
<circle cx="383.40" cy="583.00" r="1.45" fill="#000" stroke="none" stroke-width="0"/>
<circle cx="383.40" cy="590.60" r="1.45" fill="#000" stroke="none" stroke-width="0"/>
<line x1="393.20" y1="568.60" x2="393.20" y2="580.60" stroke="#D95F02" stroke-width="0.9" stroke-linecap="butt"/>
<line x1="391.40" y1="568.60" x2="395.00" y2="568.60" stroke="#D95F02" stroke-width="0.9" stroke-linecap="butt"/>
<line x1="391.40" y1="580.60" x2="395.00" y2="580.60" stroke="#D95F02" stroke-width="0.9" stroke-linecap="butt"/>
<line x1="389.80" y1="573.60" x2="396.60" y2="573.60" stroke="#222" stroke-width="0.7" stroke-linecap="butt"/>
<circle cx="393.20" cy="570.00" r="1.45" fill="#000" stroke="none" stroke-width="0"/>
<circle cx="393.20" cy="572.40" r="1.45" fill="#000" stroke="none" stroke-width="0"/>
<circle cx="393.20" cy="580.00" r="1.45" fill="#000" stroke="none" stroke-width="0"/>
<line x1="409.40" y1="572.00" x2="409.40" y2="591.00" stroke="#1B9E77" stroke-width="0.9" stroke-linecap="butt"/>
<line x1="407.60" y1="572.00" x2="411.20" y2="572.00" stroke="#1B9E77" stroke-width="0.9" stroke-linecap="butt"/>
<line x1="407.60" y1="591.00" x2="411.20" y2="591.00" stroke="#1B9E77" stroke-width="0.9" stroke-linecap="butt"/>
<line x1="406.00" y1="581.00" x2="412.80" y2="581.00" stroke="#222" stroke-width="0.7" stroke-linecap="butt"/>
<circle cx="409.40" cy="575.00" r="1.45" fill="#000" stroke="none" stroke-width="0"/>
<circle cx="409.40" cy="577.60" r="1.45" fill="#000" stroke="none" stroke-width="0"/>
<circle cx="409.40" cy="590.60" r="1.45" fill="#000" stroke="none" stroke-width="0"/>
<line x1="419.40" y1="562.00" x2="419.40" y2="572.00" stroke="#D95F02" stroke-width="0.9" stroke-linecap="butt"/>
<line x1="417.60" y1="562.00" x2="421.20" y2="562.00" stroke="#D95F02" stroke-width="0.9" stroke-linecap="butt"/>
<line x1="417.60" y1="572.00" x2="421.20" y2="572.00" stroke="#D95F02" stroke-width="0.9" stroke-linecap="butt"/>
<line x1="416.00" y1="566.60" x2="422.80" y2="566.60" stroke="#222" stroke-width="0.7" stroke-linecap="butt"/>
<circle cx="419.40" cy="561.40" r="1.45" fill="#000" stroke="none" stroke-width="0"/>
<circle cx="419.40" cy="566.60" r="1.45" fill="#000" stroke="none" stroke-width="0"/>
<circle cx="419.40" cy="572.00" r="1.45" fill="#000" stroke="none" stroke-width="0"/>
<rect x="273.00" y="542.60" width="152.90" height="152.60" fill="none" stroke="#000" stroke-width="2.55"/>
<line x1="273.00" y1="595.20" x2="428.30" y2="595.20" stroke="#000" stroke-width="2.55" stroke-linecap="butt"/>
<line x1="425.90" y1="542.60" x2="428.30" y2="542.60" stroke="#000" stroke-width="2.55" stroke-linecap="butt"/>
<line x1="425.90" y1="695.20" x2="428.30" y2="695.20" stroke="#000" stroke-width="2.55" stroke-linecap="butt"/>
<line x1="261.00" y1="542.60" x2="273.00" y2="542.60" stroke="#000" stroke-width="2.55" stroke-linecap="butt"/>
<text x="259.60" y="547.20" font-family="Liberation Sans, sans-serif" font-weight="bold" font-size="13.8" text-anchor="end" fill="#FF0000">1.3</text>
<line x1="261.00" y1="568.90" x2="273.00" y2="568.90" stroke="#000" stroke-width="2.55" stroke-linecap="butt"/>
<text x="259.60" y="573.50" font-family="Liberation Sans, sans-serif" font-weight="bold" font-size="13.8" text-anchor="end" fill="#FF0000">1.2</text>
<line x1="261.00" y1="595.20" x2="273.00" y2="595.20" stroke="#000" stroke-width="2.55" stroke-linecap="butt"/>
<text x="259.60" y="599.20" font-family="Liberation Sans, sans-serif" font-weight="bold" font-size="13.8" text-anchor="end" fill="#FF0000">1.1</text>
<line x1="266.00" y1="555.75" x2="273.00" y2="555.75" stroke="#000" stroke-width="2.55" stroke-linecap="butt"/>
<line x1="266.00" y1="582.05" x2="273.00" y2="582.05" stroke="#000" stroke-width="2.55" stroke-linecap="butt"/>
<line x1="261.00" y1="695.20" x2="273.00" y2="695.20" stroke="#000" stroke-width="2.55" stroke-linecap="butt"/>
<text x="259.90" y="700.00" font-family="Liberation Sans, sans-serif" font-weight="bold" font-size="13.8" text-anchor="end" fill="#000">0</text>
<line x1="261.00" y1="678.16" x2="273.00" y2="678.16" stroke="#000" stroke-width="2.55" stroke-linecap="butt"/>
<text x="259.90" y="682.96" font-family="Liberation Sans, sans-serif" font-weight="bold" font-size="13.8" text-anchor="end" fill="#000">20</text>
<line x1="261.00" y1="661.12" x2="273.00" y2="661.12" stroke="#000" stroke-width="2.55" stroke-linecap="butt"/>
<text x="259.90" y="665.92" font-family="Liberation Sans, sans-serif" font-weight="bold" font-size="13.8" text-anchor="end" fill="#000">40</text>
<line x1="261.00" y1="644.08" x2="273.00" y2="644.08" stroke="#000" stroke-width="2.55" stroke-linecap="butt"/>
<text x="259.90" y="648.88" font-family="Liberation Sans, sans-serif" font-weight="bold" font-size="13.8" text-anchor="end" fill="#000">60</text>
<line x1="261.00" y1="627.04" x2="273.00" y2="627.04" stroke="#000" stroke-width="2.55" stroke-linecap="butt"/>
<text x="259.90" y="631.84" font-family="Liberation Sans, sans-serif" font-weight="bold" font-size="13.8" text-anchor="end" fill="#000">80</text>
<line x1="261.00" y1="610.00" x2="273.00" y2="610.00" stroke="#000" stroke-width="2.55" stroke-linecap="butt"/>
<text x="259.90" y="614.80" font-family="Liberation Sans, sans-serif" font-weight="bold" font-size="13.8" text-anchor="end" fill="#000">100</text>
<line x1="285.10" y1="695.20" x2="285.10" y2="708.60" stroke="#000" stroke-width="2.55" stroke-linecap="butt"/>
<text x="285.10" y="721.60" font-family="Liberation Sans, sans-serif" font-weight="bold" font-size="13.8" text-anchor="middle" fill="#000">0.2</text>
<line x1="310.70" y1="695.20" x2="310.70" y2="708.60" stroke="#000" stroke-width="2.55" stroke-linecap="butt"/>
<text x="310.70" y="721.60" font-family="Liberation Sans, sans-serif" font-weight="bold" font-size="13.8" text-anchor="middle" fill="#000">0.5</text>
<line x1="336.30" y1="695.20" x2="336.30" y2="708.60" stroke="#000" stroke-width="2.55" stroke-linecap="butt"/>
<text x="336.30" y="721.60" font-family="Liberation Sans, sans-serif" font-weight="bold" font-size="13.8" text-anchor="middle" fill="#000">2</text>
<line x1="361.90" y1="695.20" x2="361.90" y2="708.60" stroke="#000" stroke-width="2.55" stroke-linecap="butt"/>
<text x="361.90" y="721.60" font-family="Liberation Sans, sans-serif" font-weight="bold" font-size="13.8" text-anchor="middle" fill="#000">5</text>
<line x1="387.50" y1="695.20" x2="387.50" y2="708.60" stroke="#000" stroke-width="2.55" stroke-linecap="butt"/>
<text x="387.50" y="721.60" font-family="Liberation Sans, sans-serif" font-weight="bold" font-size="13.8" text-anchor="middle" fill="#000">10</text>
<line x1="413.10" y1="695.20" x2="413.10" y2="708.60" stroke="#000" stroke-width="2.55" stroke-linecap="butt"/>
<text x="413.10" y="721.60" font-family="Liberation Sans, sans-serif" font-weight="bold" font-size="13.8" text-anchor="middle" fill="#000">20</text>
<text x="347.90" y="744.40" font-family="Liberation Sans, sans-serif" font-weight="bold" font-size="13.85" text-anchor="middle" fill="#000">RF (µM)</text>
<rect x="280.00" y="602.90" width="27.00" height="5.20" fill="#1B9E77" stroke="none" stroke-width="0"/>
<rect x="280.00" y="615.50" width="27.00" height="5.20" fill="#D95F02" stroke="none" stroke-width="0"/>
<text x="323.00" y="609.90" font-family="Liberation Sans, sans-serif" font-weight="bold" font-size="13" text-anchor="start" fill="#000">1h</text>
<text x="323.00" y="622.60" font-family="Liberation Sans, sans-serif" font-weight="bold" font-size="13" text-anchor="start" fill="#000">6h</text>
<g transform="translate(217.00 572.20)" fill="#FF0000"><path fill-rule="evenodd" d="M-5.2,-4.4 H5.2 V0 C5.2,3.2 3,4.4 0,4.4 C-3,4.4 -5.2,3.2 -5.2,0 Z M-3.3,-2.4 H3.3 V-0.3 C3.3,1.2 1.8,1.5 0,1.5 C-1.8,1.5 -3.3,1.2 -3.3,-0.3 Z"/><rect x="-1" y="-5.3" width="2" height="5.2"/></g>
<text x="226.30" y="648.10" font-family="Liberation Sans, sans-serif" font-weight="bold" font-size="13.85" text-anchor="middle" fill="#000" transform="rotate(-90 226.30 648.10)">Conversion (%)</text>
<text x="433.10" y="531.20" font-family="Liberation Sans, sans-serif" font-weight="bold" font-size="17" text-anchor="start" fill="#000">g</text>
<line x1="526.66" y1="695.60" x2="535.46" y2="695.60" stroke="#444" stroke-width="0.8" stroke-linecap="butt"/>
<rect x="535.46" y="691.08" width="8.80" height="5.32" fill="#D95F02" stroke="none" stroke-width="0"/>
<circle cx="537.16" cy="691.11" r="1.3" fill="#fff" stroke="#000" stroke-width="0.75"/>
<circle cx="539.86" cy="691.02" r="1.3" fill="#fff" stroke="#000" stroke-width="0.75"/>
<circle cx="542.56" cy="691.11" r="1.3" fill="#fff" stroke="#000" stroke-width="0.75"/>
<rect x="552.22" y="684.44" width="8.80" height="11.96" fill="#1B9E77" stroke="none" stroke-width="0"/>
<circle cx="553.92" cy="684.96" r="1.3" fill="#fff" stroke="#000" stroke-width="0.75"/>
<circle cx="556.62" cy="683.93" r="1.3" fill="#fff" stroke="#000" stroke-width="0.75"/>
<circle cx="559.32" cy="684.44" r="1.3" fill="#fff" stroke="#000" stroke-width="0.75"/>
<rect x="561.02" y="641.43" width="8.80" height="54.97" fill="#D95F02" stroke="none" stroke-width="0"/>
<line x1="565.42" y1="640.53" x2="565.42" y2="642.33" stroke="#000" stroke-width="0.6" stroke-linecap="butt"/>
<line x1="563.52" y1="640.53" x2="567.32" y2="640.53" stroke="#000" stroke-width="0.6" stroke-linecap="butt"/>
<line x1="563.52" y1="642.33" x2="567.32" y2="642.33" stroke="#000" stroke-width="0.6" stroke-linecap="butt"/>
<circle cx="562.72" cy="642.34" r="1.3" fill="#fff" stroke="#000" stroke-width="0.75"/>
<circle cx="565.42" cy="641.40" r="1.3" fill="#fff" stroke="#000" stroke-width="0.75"/>
<circle cx="568.12" cy="640.55" r="1.3" fill="#fff" stroke="#000" stroke-width="0.75"/>
<rect x="577.78" y="669.87" width="8.80" height="26.53" fill="#1B9E77" stroke="none" stroke-width="0"/>
<line x1="582.18" y1="669.03" x2="582.18" y2="670.71" stroke="#000" stroke-width="0.6" stroke-linecap="butt"/>
<line x1="580.28" y1="669.03" x2="584.08" y2="669.03" stroke="#000" stroke-width="0.6" stroke-linecap="butt"/>
<line x1="580.28" y1="670.71" x2="584.08" y2="670.71" stroke="#000" stroke-width="0.6" stroke-linecap="butt"/>
<circle cx="579.48" cy="668.90" r="1.3" fill="#fff" stroke="#000" stroke-width="0.75"/>
<circle cx="582.18" cy="670.44" r="1.3" fill="#fff" stroke="#000" stroke-width="0.75"/>
<circle cx="584.88" cy="670.27" r="1.3" fill="#fff" stroke="#000" stroke-width="0.75"/>
<rect x="586.58" y="619.31" width="8.80" height="77.09" fill="#D95F02" stroke="none" stroke-width="0"/>
<line x1="590.98" y1="618.47" x2="590.98" y2="620.15" stroke="#000" stroke-width="0.6" stroke-linecap="butt"/>
<line x1="589.08" y1="618.47" x2="592.88" y2="618.47" stroke="#000" stroke-width="0.6" stroke-linecap="butt"/>
<line x1="589.08" y1="620.15" x2="592.88" y2="620.15" stroke="#000" stroke-width="0.6" stroke-linecap="butt"/>
<circle cx="588.28" cy="618.34" r="1.3" fill="#fff" stroke="#000" stroke-width="0.75"/>
<circle cx="590.98" cy="619.88" r="1.3" fill="#fff" stroke="#000" stroke-width="0.75"/>
<circle cx="593.68" cy="619.71" r="1.3" fill="#fff" stroke="#000" stroke-width="0.75"/>
<rect x="603.34" y="661.27" width="8.80" height="35.13" fill="#1B9E77" stroke="none" stroke-width="0"/>
<line x1="607.74" y1="659.59" x2="607.74" y2="662.96" stroke="#000" stroke-width="0.6" stroke-linecap="butt"/>
<line x1="605.84" y1="659.59" x2="609.64" y2="659.59" stroke="#000" stroke-width="0.6" stroke-linecap="butt"/>
<line x1="605.84" y1="662.96" x2="609.64" y2="662.96" stroke="#000" stroke-width="0.6" stroke-linecap="butt"/>
<circle cx="605.04" cy="662.41" r="1.3" fill="#fff" stroke="#000" stroke-width="0.75"/>
<circle cx="607.74" cy="659.34" r="1.3" fill="#fff" stroke="#000" stroke-width="0.75"/>
<circle cx="610.44" cy="662.07" r="1.3" fill="#fff" stroke="#000" stroke-width="0.75"/>
<rect x="612.14" y="616.47" width="8.80" height="79.93" fill="#D95F02" stroke="none" stroke-width="0"/>
<line x1="616.54" y1="615.68" x2="616.54" y2="617.25" stroke="#000" stroke-width="0.6" stroke-linecap="butt"/>
<line x1="614.64" y1="615.68" x2="618.44" y2="615.68" stroke="#000" stroke-width="0.6" stroke-linecap="butt"/>
<line x1="614.64" y1="617.25" x2="618.44" y2="617.25" stroke="#000" stroke-width="0.6" stroke-linecap="butt"/>
<circle cx="613.84" cy="617.15" r="1.3" fill="#fff" stroke="#000" stroke-width="0.75"/>
<circle cx="616.54" cy="616.64" r="1.3" fill="#fff" stroke="#000" stroke-width="0.75"/>
<circle cx="619.24" cy="615.61" r="1.3" fill="#fff" stroke="#000" stroke-width="0.75"/>
<rect x="628.90" y="651.25" width="8.80" height="45.15" fill="#1B9E77" stroke="none" stroke-width="0"/>
<line x1="633.30" y1="649.23" x2="633.30" y2="653.28" stroke="#000" stroke-width="0.6" stroke-linecap="butt"/>
<line x1="631.40" y1="649.23" x2="635.20" y2="649.23" stroke="#000" stroke-width="0.6" stroke-linecap="butt"/>
<line x1="631.40" y1="653.28" x2="635.20" y2="653.28" stroke="#000" stroke-width="0.6" stroke-linecap="butt"/>
<circle cx="630.60" cy="652.50" r="1.3" fill="#fff" stroke="#000" stroke-width="0.75"/>
<circle cx="633.30" cy="648.92" r="1.3" fill="#fff" stroke="#000" stroke-width="0.75"/>
<circle cx="636.00" cy="652.33" r="1.3" fill="#fff" stroke="#000" stroke-width="0.75"/>
<rect x="637.70" y="612.02" width="8.80" height="84.38" fill="#D95F02" stroke="none" stroke-width="0"/>
<circle cx="639.40" cy="612.54" r="1.3" fill="#fff" stroke="#000" stroke-width="0.75"/>
<circle cx="642.10" cy="612.02" r="1.3" fill="#fff" stroke="#000" stroke-width="0.75"/>
<circle cx="644.80" cy="611.51" r="1.3" fill="#fff" stroke="#000" stroke-width="0.75"/>
<line x1="539.00" y1="591.00" x2="539.00" y2="595.50" stroke="#D95F02" stroke-width="0.9" stroke-linecap="butt"/>
<line x1="537.20" y1="591.00" x2="540.80" y2="591.00" stroke="#D95F02" stroke-width="0.9" stroke-linecap="butt"/>
<line x1="537.20" y1="595.50" x2="540.80" y2="595.50" stroke="#D95F02" stroke-width="0.9" stroke-linecap="butt"/>
<line x1="535.60" y1="594.40" x2="542.40" y2="594.40" stroke="#222" stroke-width="0.7" stroke-linecap="butt"/>
<circle cx="539.00" cy="591.60" r="1.45" fill="#000" stroke="none" stroke-width="0"/>
<circle cx="539.00" cy="594.00" r="1.45" fill="#000" stroke="none" stroke-width="0"/>
<line x1="555.40" y1="560.00" x2="555.40" y2="571.00" stroke="#1B9E77" stroke-width="0.9" stroke-linecap="butt"/>
<line x1="553.60" y1="560.00" x2="557.20" y2="560.00" stroke="#1B9E77" stroke-width="0.9" stroke-linecap="butt"/>
<line x1="553.60" y1="571.00" x2="557.20" y2="571.00" stroke="#1B9E77" stroke-width="0.9" stroke-linecap="butt"/>
<line x1="552.00" y1="566.40" x2="558.80" y2="566.40" stroke="#222" stroke-width="0.7" stroke-linecap="butt"/>
<circle cx="555.40" cy="560.00" r="1.45" fill="#000" stroke="none" stroke-width="0"/>
<circle cx="555.40" cy="568.00" r="1.45" fill="#000" stroke="none" stroke-width="0"/>
<circle cx="555.40" cy="570.60" r="1.45" fill="#000" stroke="none" stroke-width="0"/>
<line x1="565.00" y1="576.00" x2="565.00" y2="594.00" stroke="#D95F02" stroke-width="0.9" stroke-linecap="butt"/>
<line x1="563.20" y1="576.00" x2="566.80" y2="576.00" stroke="#D95F02" stroke-width="0.9" stroke-linecap="butt"/>
<line x1="563.20" y1="594.00" x2="566.80" y2="594.00" stroke="#D95F02" stroke-width="0.9" stroke-linecap="butt"/>
<line x1="561.60" y1="585.40" x2="568.40" y2="585.40" stroke="#222" stroke-width="0.7" stroke-linecap="butt"/>
<circle cx="565.00" cy="576.00" r="1.45" fill="#000" stroke="none" stroke-width="0"/>
<circle cx="565.00" cy="588.60" r="1.45" fill="#000" stroke="none" stroke-width="0"/>
<circle cx="565.00" cy="592.00" r="1.45" fill="#000" stroke="none" stroke-width="0"/>
<line x1="581.40" y1="583.00" x2="581.40" y2="586.50" stroke="#1B9E77" stroke-width="0.9" stroke-linecap="butt"/>
<line x1="579.60" y1="583.00" x2="583.20" y2="583.00" stroke="#1B9E77" stroke-width="0.9" stroke-linecap="butt"/>
<line x1="579.60" y1="586.50" x2="583.20" y2="586.50" stroke="#1B9E77" stroke-width="0.9" stroke-linecap="butt"/>
<line x1="578.00" y1="584.60" x2="584.80" y2="584.60" stroke="#222" stroke-width="0.7" stroke-linecap="butt"/>
<circle cx="579.80" cy="583.60" r="1.45" fill="#000" stroke="none" stroke-width="0"/>
<circle cx="583.00" cy="583.60" r="1.45" fill="#000" stroke="none" stroke-width="0"/>
<circle cx="581.40" cy="586.60" r="1.45" fill="#000" stroke="none" stroke-width="0"/>
<line x1="591.00" y1="578.00" x2="591.00" y2="588.60" stroke="#D95F02" stroke-width="0.9" stroke-linecap="butt"/>
<line x1="589.20" y1="578.00" x2="592.80" y2="578.00" stroke="#D95F02" stroke-width="0.9" stroke-linecap="butt"/>
<line x1="589.20" y1="588.60" x2="592.80" y2="588.60" stroke="#D95F02" stroke-width="0.9" stroke-linecap="butt"/>
<line x1="587.60" y1="583.60" x2="594.40" y2="583.60" stroke="#222" stroke-width="0.7" stroke-linecap="butt"/>
<circle cx="591.00" cy="578.60" r="1.45" fill="#000" stroke="none" stroke-width="0"/>
<circle cx="589.50" cy="586.80" r="1.45" fill="#000" stroke="none" stroke-width="0"/>
<circle cx="592.50" cy="586.80" r="1.45" fill="#000" stroke="none" stroke-width="0"/>
<line x1="607.40" y1="578.00" x2="607.40" y2="592.00" stroke="#1B9E77" stroke-width="0.9" stroke-linecap="butt"/>
<line x1="605.60" y1="578.00" x2="609.20" y2="578.00" stroke="#1B9E77" stroke-width="0.9" stroke-linecap="butt"/>
<line x1="605.60" y1="592.00" x2="609.20" y2="592.00" stroke="#1B9E77" stroke-width="0.9" stroke-linecap="butt"/>
<line x1="604.00" y1="584.40" x2="610.80" y2="584.40" stroke="#222" stroke-width="0.7" stroke-linecap="butt"/>
<circle cx="607.40" cy="578.00" r="1.45" fill="#000" stroke="none" stroke-width="0"/>
<circle cx="607.40" cy="584.00" r="1.45" fill="#000" stroke="none" stroke-width="0"/>
<circle cx="607.40" cy="591.60" r="1.45" fill="#000" stroke="none" stroke-width="0"/>
<line x1="617.00" y1="570.00" x2="617.00" y2="576.00" stroke="#D95F02" stroke-width="0.9" stroke-linecap="butt"/>
<line x1="615.20" y1="570.00" x2="618.80" y2="570.00" stroke="#D95F02" stroke-width="0.9" stroke-linecap="butt"/>
<line x1="615.20" y1="576.00" x2="618.80" y2="576.00" stroke="#D95F02" stroke-width="0.9" stroke-linecap="butt"/>
<line x1="613.60" y1="573.00" x2="620.40" y2="573.00" stroke="#222" stroke-width="0.7" stroke-linecap="butt"/>
<circle cx="617.00" cy="570.60" r="1.45" fill="#000" stroke="none" stroke-width="0"/>
<circle cx="617.00" cy="573.00" r="1.45" fill="#000" stroke="none" stroke-width="0"/>
<circle cx="617.00" cy="575.60" r="1.45" fill="#000" stroke="none" stroke-width="0"/>
<line x1="633.40" y1="576.40" x2="633.40" y2="578.60" stroke="#1B9E77" stroke-width="0.9" stroke-linecap="butt"/>
<line x1="631.60" y1="576.40" x2="635.20" y2="576.40" stroke="#1B9E77" stroke-width="0.9" stroke-linecap="butt"/>
<line x1="631.60" y1="578.60" x2="635.20" y2="578.60" stroke="#1B9E77" stroke-width="0.9" stroke-linecap="butt"/>
<line x1="630.00" y1="578.00" x2="636.80" y2="578.00" stroke="#222" stroke-width="0.7" stroke-linecap="butt"/>
<circle cx="631.70" cy="578.00" r="1.45" fill="#000" stroke="none" stroke-width="0"/>
<circle cx="635.10" cy="578.00" r="1.45" fill="#000" stroke="none" stroke-width="0"/>
<circle cx="633.40" cy="576.60" r="1.45" fill="#000" stroke="none" stroke-width="0"/>
<line x1="643.40" y1="556.00" x2="643.40" y2="573.00" stroke="#D95F02" stroke-width="0.9" stroke-linecap="butt"/>
<line x1="641.60" y1="556.00" x2="645.20" y2="556.00" stroke="#D95F02" stroke-width="0.9" stroke-linecap="butt"/>
<line x1="641.60" y1="573.00" x2="645.20" y2="573.00" stroke="#D95F02" stroke-width="0.9" stroke-linecap="butt"/>
<line x1="640.00" y1="564.00" x2="646.80" y2="564.00" stroke="#222" stroke-width="0.7" stroke-linecap="butt"/>
<circle cx="643.40" cy="557.00" r="1.45" fill="#000" stroke="none" stroke-width="0"/>
<circle cx="643.40" cy="562.60" r="1.45" fill="#000" stroke="none" stroke-width="0"/>
<circle cx="643.40" cy="572.60" r="1.45" fill="#000" stroke="none" stroke-width="0"/>
<rect x="497.00" y="543.40" width="153.80" height="153.00" fill="none" stroke="#000" stroke-width="2.55"/>
<line x1="497.00" y1="596.80" x2="653.20" y2="596.80" stroke="#000" stroke-width="2.55" stroke-linecap="butt"/>
<line x1="650.80" y1="543.40" x2="653.20" y2="543.40" stroke="#000" stroke-width="2.55" stroke-linecap="butt"/>
<line x1="650.80" y1="696.40" x2="653.20" y2="696.40" stroke="#000" stroke-width="2.55" stroke-linecap="butt"/>
<line x1="485.00" y1="543.40" x2="497.00" y2="543.40" stroke="#000" stroke-width="2.55" stroke-linecap="butt"/>
<text x="483.40" y="548.00" font-family="Liberation Sans, sans-serif" font-weight="bold" font-size="13.8" text-anchor="end" fill="#FF0000">1.3</text>
<line x1="485.00" y1="570.10" x2="497.00" y2="570.10" stroke="#000" stroke-width="2.55" stroke-linecap="butt"/>
<text x="483.40" y="574.70" font-family="Liberation Sans, sans-serif" font-weight="bold" font-size="13.8" text-anchor="end" fill="#FF0000">1.2</text>
<line x1="485.00" y1="596.80" x2="497.00" y2="596.80" stroke="#000" stroke-width="2.55" stroke-linecap="butt"/>
<text x="483.40" y="600.80" font-family="Liberation Sans, sans-serif" font-weight="bold" font-size="13.8" text-anchor="end" fill="#FF0000">1.1</text>
<line x1="490.00" y1="556.75" x2="497.00" y2="556.75" stroke="#000" stroke-width="2.55" stroke-linecap="butt"/>
<line x1="490.00" y1="583.45" x2="497.00" y2="583.45" stroke="#000" stroke-width="2.55" stroke-linecap="butt"/>
<line x1="485.00" y1="696.40" x2="497.00" y2="696.40" stroke="#000" stroke-width="2.55" stroke-linecap="butt"/>
<text x="483.70" y="701.20" font-family="Liberation Sans, sans-serif" font-weight="bold" font-size="13.8" text-anchor="end" fill="#000">0</text>
<line x1="485.00" y1="679.32" x2="497.00" y2="679.32" stroke="#000" stroke-width="2.55" stroke-linecap="butt"/>
<text x="483.70" y="684.12" font-family="Liberation Sans, sans-serif" font-weight="bold" font-size="13.8" text-anchor="end" fill="#000">20</text>
<line x1="485.00" y1="662.24" x2="497.00" y2="662.24" stroke="#000" stroke-width="2.55" stroke-linecap="butt"/>
<text x="483.70" y="667.04" font-family="Liberation Sans, sans-serif" font-weight="bold" font-size="13.8" text-anchor="end" fill="#000">40</text>
<line x1="485.00" y1="645.16" x2="497.00" y2="645.16" stroke="#000" stroke-width="2.55" stroke-linecap="butt"/>
<text x="483.70" y="649.96" font-family="Liberation Sans, sans-serif" font-weight="bold" font-size="13.8" text-anchor="end" fill="#000">60</text>
<line x1="485.00" y1="628.08" x2="497.00" y2="628.08" stroke="#000" stroke-width="2.55" stroke-linecap="butt"/>
<text x="483.70" y="632.88" font-family="Liberation Sans, sans-serif" font-weight="bold" font-size="13.8" text-anchor="end" fill="#000">80</text>
<line x1="485.00" y1="611.00" x2="497.00" y2="611.00" stroke="#000" stroke-width="2.55" stroke-linecap="butt"/>
<text x="483.70" y="615.80" font-family="Liberation Sans, sans-serif" font-weight="bold" font-size="13.8" text-anchor="end" fill="#000">100</text>
<line x1="509.60" y1="696.40" x2="509.60" y2="709.80" stroke="#000" stroke-width="2.55" stroke-linecap="butt"/>
<text x="509.60" y="723.00" font-family="Liberation Sans, sans-serif" font-weight="bold" font-size="13.8" text-anchor="middle" fill="#000">0.2</text>
<line x1="535.16" y1="696.40" x2="535.16" y2="709.80" stroke="#000" stroke-width="2.55" stroke-linecap="butt"/>
<text x="535.16" y="723.00" font-family="Liberation Sans, sans-serif" font-weight="bold" font-size="13.8" text-anchor="middle" fill="#000">0.5</text>
<line x1="560.72" y1="696.40" x2="560.72" y2="709.80" stroke="#000" stroke-width="2.55" stroke-linecap="butt"/>
<text x="560.72" y="723.00" font-family="Liberation Sans, sans-serif" font-weight="bold" font-size="13.8" text-anchor="middle" fill="#000">2</text>
<line x1="586.28" y1="696.40" x2="586.28" y2="709.80" stroke="#000" stroke-width="2.55" stroke-linecap="butt"/>
<text x="586.28" y="723.00" font-family="Liberation Sans, sans-serif" font-weight="bold" font-size="13.8" text-anchor="middle" fill="#000">5</text>
<line x1="611.84" y1="696.40" x2="611.84" y2="709.80" stroke="#000" stroke-width="2.55" stroke-linecap="butt"/>
<text x="611.84" y="723.00" font-family="Liberation Sans, sans-serif" font-weight="bold" font-size="13.8" text-anchor="middle" fill="#000">10</text>
<line x1="637.40" y1="696.40" x2="637.40" y2="709.80" stroke="#000" stroke-width="2.55" stroke-linecap="butt"/>
<text x="637.40" y="723.00" font-family="Liberation Sans, sans-serif" font-weight="bold" font-size="13.8" text-anchor="middle" fill="#000">20</text>
<text x="568.30" y="749.60" font-family="Liberation Sans, sans-serif" font-weight="bold" font-size="13.85" text-anchor="middle" fill="#000">FMN (µM)</text>
<rect x="504.40" y="604.70" width="27.00" height="5.20" fill="#1B9E77" stroke="none" stroke-width="0"/>
<rect x="504.40" y="616.20" width="27.00" height="5.20" fill="#D95F02" stroke="none" stroke-width="0"/>
<text x="547.60" y="611.40" font-family="Liberation Sans, sans-serif" font-weight="bold" font-size="13" text-anchor="start" fill="#000">1h</text>
<text x="547.60" y="623.40" font-family="Liberation Sans, sans-serif" font-weight="bold" font-size="13" text-anchor="start" fill="#000">6h</text>
<g transform="translate(441.60 573.60)" fill="#FF0000"><path fill-rule="evenodd" d="M-5.2,-4.4 H5.2 V0 C5.2,3.2 3,4.4 0,4.4 C-3,4.4 -5.2,3.2 -5.2,0 Z M-3.3,-2.4 H3.3 V-0.3 C3.3,1.2 1.8,1.5 0,1.5 C-1.8,1.5 -3.3,1.2 -3.3,-0.3 Z"/><rect x="-1" y="-5.3" width="2" height="5.2"/></g>
<text x="451.00" y="649.20" font-family="Liberation Sans, sans-serif" font-weight="bold" font-size="13.85" text-anchor="middle" fill="#000" transform="rotate(-90 451.00 649.20)">Conversion (%)</text>
</svg>
</body></html>
